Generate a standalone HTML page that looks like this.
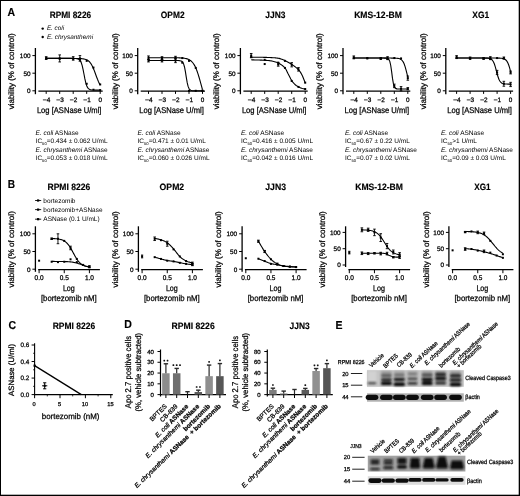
<!DOCTYPE html>
<html><head><meta charset="utf-8"><style>
html,body{margin:0;padding:0;background:#fff;width:520px;height:496px;overflow:hidden}
svg{display:block;will-change:transform}
text{font-family:"Liberation Sans", sans-serif;text-rendering:geometricPrecision}
text.b{stroke:currentColor;stroke-width:0.25px}
text.bb{stroke:currentColor;stroke-width:0.15px}
</style></head><body>
<svg width="520" height="496" viewBox="0 0 520 496" font-family="Liberation Sans, sans-serif">
<rect width="520" height="496" fill="#fff"/>
<rect x="0" y="0" width="1.0" height="496" fill="#000"/>
<rect x="0" y="0" width="520" height="1.0" fill="#000"/>
<rect x="518.7" y="0" width="1.3" height="496" fill="#000"/>
<rect x="0" y="494.7" width="520" height="1.3" fill="#000"/>
<text x="7.40" y="16.40" font-size="11.5" font-weight="bold" textLength="7.60" lengthAdjust="spacingAndGlyphs" class="bb">A</text>
<text x="7.70" y="188.40" font-size="11.5" font-weight="bold" textLength="7.30" lengthAdjust="spacingAndGlyphs" class="bb">B</text>
<text x="8.40" y="328.60" font-size="11.5" font-weight="bold" textLength="7.60" lengthAdjust="spacingAndGlyphs" class="bb">C</text>
<text x="124.30" y="328.40" font-size="11.5" font-weight="bold" textLength="7.60" lengthAdjust="spacingAndGlyphs" class="bb">D</text>
<text x="335.40" y="328.60" font-size="11.5" font-weight="bold" textLength="7.00" lengthAdjust="spacingAndGlyphs" class="bb">E</text>
<text x="70.40" y="17.60" font-size="9.2" text-anchor="middle" font-weight="bold" textLength="41.50" lengthAdjust="spacingAndGlyphs" class="bb">RPMI 8226</text>
<line x1="35.40" y1="48.00" x2="35.40" y2="94.20" stroke="#000" stroke-width="1.3"/>
<line x1="32.40" y1="55.60" x2="35.40" y2="55.60" stroke="#000" stroke-width="1.0"/>
<text x="30.50" y="57.90" font-size="6.4" text-anchor="end" class="b">100</text>
<line x1="32.40" y1="73.20" x2="35.40" y2="73.20" stroke="#000" stroke-width="1.0"/>
<text x="30.50" y="75.50" font-size="6.4" text-anchor="end" class="b">50</text>
<line x1="32.40" y1="90.80" x2="35.40" y2="90.80" stroke="#000" stroke-width="1.0"/>
<text x="30.50" y="93.10" font-size="6.4" text-anchor="end" class="b">0</text>
<line x1="38.40" y1="91.10" x2="102.70" y2="91.10" stroke="#000" stroke-width="1.2"/>
<line x1="46.20" y1="91.10" x2="46.20" y2="93.90" stroke="#000" stroke-width="1.0"/>
<text x="48.50" y="102.00" font-size="6.4" text-anchor="middle" class="b">4</text>
<line x1="42.90" y1="99.90" x2="46.60" y2="99.90" stroke="#000" stroke-width="0.8"/>
<line x1="59.70" y1="91.10" x2="59.70" y2="93.90" stroke="#000" stroke-width="1.0"/>
<text x="62.00" y="102.00" font-size="6.4" text-anchor="middle" class="b">3</text>
<line x1="56.40" y1="99.90" x2="60.10" y2="99.90" stroke="#000" stroke-width="0.8"/>
<line x1="73.20" y1="91.10" x2="73.20" y2="93.90" stroke="#000" stroke-width="1.0"/>
<text x="75.50" y="102.00" font-size="6.4" text-anchor="middle" class="b">2</text>
<line x1="69.90" y1="99.90" x2="73.60" y2="99.90" stroke="#000" stroke-width="0.8"/>
<line x1="86.70" y1="91.10" x2="86.70" y2="93.90" stroke="#000" stroke-width="1.0"/>
<text x="89.00" y="102.00" font-size="6.4" text-anchor="middle" class="b">1</text>
<line x1="83.40" y1="99.90" x2="87.10" y2="99.90" stroke="#000" stroke-width="0.8"/>
<line x1="100.20" y1="91.10" x2="100.20" y2="93.90" stroke="#000" stroke-width="1.0"/>
<text x="100.20" y="102.00" font-size="6.4" text-anchor="middle" class="b">0</text>
<text x="69.20" y="112.70" font-size="8.3" text-anchor="middle" textLength="64.60" lengthAdjust="spacingAndGlyphs" class="b">Log [ASNase U/ml]</text>
<text x="14.00" y="71.30" font-size="8.1" text-anchor="middle" textLength="76.10" lengthAdjust="spacingAndGlyphs" transform="rotate(-90 14.00 71.30)" class="b">viability (% of control)</text>
<path d="M46.20,58.42 L47.10,58.42 L48.00,58.42 L48.90,58.42 L49.80,58.42 L50.70,58.42 L51.60,58.42 L52.50,58.42 L53.40,58.42 L54.30,58.42 L55.20,58.42 L56.10,58.42 L57.00,58.42 L57.90,58.42 L58.80,58.42 L59.70,58.42 L60.60,58.42 L61.50,58.42 L62.40,58.42 L63.30,58.42 L64.20,58.42 L65.10,58.42 L66.00,58.42 L66.90,58.42 L67.80,58.42 L68.70,58.42 L69.60,58.42 L70.50,58.42 L71.40,58.42 L72.30,58.43 L73.20,58.43 L74.10,58.44 L75.00,58.44 L75.90,58.45 L76.80,58.47 L77.70,58.48 L78.60,58.51 L79.50,58.54 L80.40,58.59 L81.30,58.65 L82.20,58.73 L83.10,58.84 L84.00,58.99 L84.90,59.20 L85.80,59.47 L86.70,59.83 L87.60,60.31 L88.50,60.94 L89.40,61.75 L90.30,62.79 L91.20,64.08 L92.10,65.67 L93.00,67.54 L93.90,69.67 L94.80,72.02 L95.70,74.48 L96.60,76.95 L97.50,79.32 L98.40,81.48 L99.30,83.38 L100.20,84.99" stroke="#000" stroke-width="1.1" fill="none"/>
<path d="M46.20,58.42 L47.10,58.42 L48.00,58.42 L48.90,58.42 L49.80,58.42 L50.70,58.42 L51.60,58.42 L52.50,58.42 L53.40,58.42 L54.30,58.42 L55.20,58.42 L56.10,58.42 L57.00,58.42 L57.90,58.42 L58.80,58.42 L59.70,58.42 L60.60,58.42 L61.50,58.42 L62.40,58.42 L63.30,58.42 L64.20,58.42 L65.10,58.42 L66.00,58.42 L66.90,58.42 L67.80,58.42 L68.70,58.42 L69.60,58.42 L70.50,58.42 L71.40,58.42 L72.30,58.43 L73.20,58.44 L74.10,58.45 L75.00,58.48 L75.90,58.54 L76.80,58.65 L77.70,58.84 L78.60,59.19 L79.50,59.82 L80.40,60.92 L81.30,62.75 L82.20,65.59 L83.10,69.54 L84.00,74.26 L84.90,78.97 L85.80,82.92 L86.70,85.76 L87.60,87.59 L88.50,88.69 L89.40,89.32 L90.30,89.67 L91.20,89.86 L92.10,89.97 L93.00,90.03 L93.90,90.06 L94.80,90.08 L95.70,90.09 L96.60,90.09 L97.50,90.09 L98.40,90.09 L99.30,90.10 L100.20,90.10" stroke="#000" stroke-width="1.1" fill="none"/>
<line x1="46.20" y1="56.66" x2="46.20" y2="59.47" stroke="#000" stroke-width="0.9"/>
<line x1="44.90" y1="56.66" x2="47.50" y2="56.66" stroke="#000" stroke-width="0.9"/>
<line x1="44.90" y1="59.47" x2="47.50" y2="59.47" stroke="#000" stroke-width="0.9"/>
<rect x="45.20" y="57.06" width="2.00" height="2.00" fill="#000"/>
<line x1="59.70" y1="54.90" x2="59.70" y2="61.94" stroke="#000" stroke-width="0.9"/>
<line x1="58.40" y1="54.90" x2="61.00" y2="54.90" stroke="#000" stroke-width="0.9"/>
<line x1="58.40" y1="61.94" x2="61.00" y2="61.94" stroke="#000" stroke-width="0.9"/>
<rect x="58.70" y="57.42" width="2.00" height="2.00" fill="#000"/>
<line x1="73.20" y1="56.66" x2="73.20" y2="60.18" stroke="#000" stroke-width="0.9"/>
<line x1="71.90" y1="56.66" x2="74.50" y2="56.66" stroke="#000" stroke-width="0.9"/>
<line x1="71.90" y1="60.18" x2="74.50" y2="60.18" stroke="#000" stroke-width="0.9"/>
<rect x="72.20" y="57.42" width="2.00" height="2.00" fill="#000"/>
<line x1="79.95" y1="55.60" x2="79.95" y2="61.23" stroke="#000" stroke-width="0.9"/>
<line x1="78.65" y1="55.60" x2="81.25" y2="55.60" stroke="#000" stroke-width="0.9"/>
<line x1="78.65" y1="61.23" x2="81.25" y2="61.23" stroke="#000" stroke-width="0.9"/>
<rect x="78.95" y="57.42" width="2.00" height="2.00" fill="#000"/>
<rect x="85.70" y="59.88" width="2.00" height="2.00" fill="#000"/>
<rect x="92.45" y="66.57" width="2.00" height="2.00" fill="#000"/>
<rect x="99.20" y="83.46" width="2.00" height="2.00" fill="#000"/>
<rect x="45.20" y="57.42" width="2.00" height="2.00" fill="#000"/>
<rect x="58.70" y="57.77" width="2.00" height="2.00" fill="#000"/>
<rect x="72.20" y="57.77" width="2.00" height="2.00" fill="#000"/>
<rect x="78.95" y="58.47" width="2.00" height="2.00" fill="#000"/>
<rect x="85.70" y="82.76" width="2.00" height="2.00" fill="#000"/>
<rect x="92.45" y="88.74" width="2.00" height="2.00" fill="#000"/>
<rect x="99.20" y="89.10" width="2.00" height="2.00" fill="#000"/>
<text x="172.70" y="17.60" font-size="9.2" text-anchor="middle" font-weight="bold" textLength="23.70" lengthAdjust="spacingAndGlyphs" class="bb">OPM2</text>
<line x1="137.70" y1="48.00" x2="137.70" y2="94.20" stroke="#000" stroke-width="1.3"/>
<line x1="134.70" y1="55.60" x2="137.70" y2="55.60" stroke="#000" stroke-width="1.0"/>
<text x="132.80" y="57.90" font-size="6.4" text-anchor="end" class="b">100</text>
<line x1="134.70" y1="73.20" x2="137.70" y2="73.20" stroke="#000" stroke-width="1.0"/>
<text x="132.80" y="75.50" font-size="6.4" text-anchor="end" class="b">50</text>
<line x1="134.70" y1="90.80" x2="137.70" y2="90.80" stroke="#000" stroke-width="1.0"/>
<text x="132.80" y="93.10" font-size="6.4" text-anchor="end" class="b">0</text>
<line x1="140.70" y1="91.10" x2="205.00" y2="91.10" stroke="#000" stroke-width="1.2"/>
<line x1="148.50" y1="91.10" x2="148.50" y2="93.90" stroke="#000" stroke-width="1.0"/>
<text x="150.80" y="102.00" font-size="6.4" text-anchor="middle" class="b">4</text>
<line x1="145.20" y1="99.90" x2="148.90" y2="99.90" stroke="#000" stroke-width="0.8"/>
<line x1="162.00" y1="91.10" x2="162.00" y2="93.90" stroke="#000" stroke-width="1.0"/>
<text x="164.30" y="102.00" font-size="6.4" text-anchor="middle" class="b">3</text>
<line x1="158.70" y1="99.90" x2="162.40" y2="99.90" stroke="#000" stroke-width="0.8"/>
<line x1="175.50" y1="91.10" x2="175.50" y2="93.90" stroke="#000" stroke-width="1.0"/>
<text x="177.80" y="102.00" font-size="6.4" text-anchor="middle" class="b">2</text>
<line x1="172.20" y1="99.90" x2="175.90" y2="99.90" stroke="#000" stroke-width="0.8"/>
<line x1="189.00" y1="91.10" x2="189.00" y2="93.90" stroke="#000" stroke-width="1.0"/>
<text x="191.30" y="102.00" font-size="6.4" text-anchor="middle" class="b">1</text>
<line x1="185.70" y1="99.90" x2="189.40" y2="99.90" stroke="#000" stroke-width="0.8"/>
<line x1="202.50" y1="91.10" x2="202.50" y2="93.90" stroke="#000" stroke-width="1.0"/>
<text x="202.50" y="102.00" font-size="6.4" text-anchor="middle" class="b">0</text>
<text x="171.50" y="112.70" font-size="8.3" text-anchor="middle" textLength="64.60" lengthAdjust="spacingAndGlyphs" class="b">Log [ASNase U/ml]</text>
<text x="118.00" y="71.30" font-size="8.1" text-anchor="middle" textLength="76.10" lengthAdjust="spacingAndGlyphs" transform="rotate(-90 118.00 71.30)" class="b">viability (% of control)</text>
<path d="M148.50,57.71 L149.40,57.71 L150.30,57.71 L151.20,57.71 L152.10,57.71 L153.00,57.71 L153.90,57.71 L154.80,57.71 L155.70,57.71 L156.60,57.71 L157.50,57.71 L158.40,57.71 L159.30,57.71 L160.20,57.71 L161.10,57.71 L162.00,57.71 L162.90,57.71 L163.80,57.71 L164.70,57.71 L165.60,57.72 L166.50,57.72 L167.40,57.72 L168.30,57.72 L169.20,57.72 L170.10,57.72 L171.00,57.73 L171.90,57.73 L172.80,57.74 L173.70,57.74 L174.60,57.75 L175.50,57.76 L176.40,57.78 L177.30,57.79 L178.20,57.82 L179.10,57.84 L180.00,57.88 L180.90,57.93 L181.80,57.99 L182.70,58.06 L183.60,58.16 L184.50,58.28 L185.40,58.44 L186.30,58.64 L187.20,58.89 L188.10,59.21 L189.00,59.61 L189.90,60.12 L190.80,60.75 L191.70,61.53 L192.60,62.50 L193.50,63.69 L194.40,65.13 L195.30,66.84 L196.20,68.86 L197.10,71.20 L198.00,73.83 L198.90,76.75 L199.80,79.88 L200.70,83.15 L201.60,86.48 L202.50,89.75" stroke="#000" stroke-width="1.1" fill="none"/>
<path d="M148.50,60.53 L149.40,60.53 L150.30,60.53 L151.20,60.53 L152.10,60.53 L153.00,60.53 L153.90,60.53 L154.80,60.53 L155.70,60.53 L156.60,60.53 L157.50,60.53 L158.40,60.53 L159.30,60.53 L160.20,60.53 L161.10,60.53 L162.00,60.53 L162.90,60.53 L163.80,60.53 L164.70,60.53 L165.60,60.53 L166.50,60.53 L167.40,60.53 L168.30,60.53 L169.20,60.53 L170.10,60.53 L171.00,60.53 L171.90,60.53 L172.80,60.53 L173.70,60.53 L174.60,60.53 L175.50,60.53 L176.40,60.54 L177.30,60.55 L178.20,60.57 L179.10,60.61 L180.00,60.70 L180.90,60.90 L181.80,61.33 L182.70,62.20 L183.60,63.91 L184.50,66.99 L185.40,71.69 L186.30,77.40 L187.20,82.65 L188.10,86.38 L189.00,88.57 L189.90,89.72 L190.80,90.29 L191.70,90.56 L192.60,90.69 L193.50,90.75 L194.40,90.78 L195.30,90.79 L196.20,90.79 L197.10,90.80 L198.00,90.80 L198.90,90.80 L199.80,90.80 L200.70,90.80 L201.60,90.80 L202.50,90.80" stroke="#000" stroke-width="1.1" fill="none"/>
<line x1="148.50" y1="55.95" x2="148.50" y2="59.47" stroke="#000" stroke-width="0.9"/>
<line x1="147.20" y1="55.95" x2="149.80" y2="55.95" stroke="#000" stroke-width="0.9"/>
<line x1="147.20" y1="59.47" x2="149.80" y2="59.47" stroke="#000" stroke-width="0.9"/>
<rect x="147.50" y="56.71" width="2.00" height="2.00" fill="#000"/>
<line x1="162.00" y1="56.66" x2="162.00" y2="59.47" stroke="#000" stroke-width="0.9"/>
<line x1="160.70" y1="56.66" x2="163.30" y2="56.66" stroke="#000" stroke-width="0.9"/>
<line x1="160.70" y1="59.47" x2="163.30" y2="59.47" stroke="#000" stroke-width="0.9"/>
<rect x="161.00" y="57.06" width="2.00" height="2.00" fill="#000"/>
<line x1="175.50" y1="56.30" x2="175.50" y2="59.12" stroke="#000" stroke-width="0.9"/>
<line x1="174.20" y1="56.30" x2="176.80" y2="56.30" stroke="#000" stroke-width="0.9"/>
<line x1="174.20" y1="59.12" x2="176.80" y2="59.12" stroke="#000" stroke-width="0.9"/>
<rect x="174.50" y="56.71" width="2.00" height="2.00" fill="#000"/>
<rect x="181.25" y="57.06" width="2.00" height="2.00" fill="#000"/>
<rect x="188.00" y="59.88" width="2.00" height="2.00" fill="#000"/>
<rect x="194.75" y="66.92" width="2.00" height="2.00" fill="#000"/>
<rect x="201.50" y="89.80" width="2.00" height="2.00" fill="#000"/>
<line x1="148.50" y1="59.12" x2="148.50" y2="61.94" stroke="#000" stroke-width="0.9"/>
<line x1="147.20" y1="59.12" x2="149.80" y2="59.12" stroke="#000" stroke-width="0.9"/>
<line x1="147.20" y1="61.94" x2="149.80" y2="61.94" stroke="#000" stroke-width="0.9"/>
<rect x="147.50" y="59.53" width="2.00" height="2.00" fill="#000"/>
<line x1="162.00" y1="59.12" x2="162.00" y2="61.94" stroke="#000" stroke-width="0.9"/>
<line x1="160.70" y1="59.12" x2="163.30" y2="59.12" stroke="#000" stroke-width="0.9"/>
<line x1="160.70" y1="61.94" x2="163.30" y2="61.94" stroke="#000" stroke-width="0.9"/>
<rect x="161.00" y="59.53" width="2.00" height="2.00" fill="#000"/>
<line x1="175.50" y1="58.42" x2="175.50" y2="62.64" stroke="#000" stroke-width="0.9"/>
<line x1="174.20" y1="58.42" x2="176.80" y2="58.42" stroke="#000" stroke-width="0.9"/>
<line x1="174.20" y1="62.64" x2="176.80" y2="62.64" stroke="#000" stroke-width="0.9"/>
<rect x="174.50" y="59.53" width="2.00" height="2.00" fill="#000"/>
<rect x="181.25" y="61.64" width="2.00" height="2.00" fill="#000"/>
<rect x="188.00" y="89.80" width="2.00" height="2.00" fill="#000"/>
<rect x="194.75" y="89.80" width="2.00" height="2.00" fill="#000"/>
<rect x="201.50" y="89.80" width="2.00" height="2.00" fill="#000"/>
<text x="275.40" y="17.60" font-size="9.2" text-anchor="middle" font-weight="bold" textLength="20.10" lengthAdjust="spacingAndGlyphs" class="bb">JJN3</text>
<line x1="240.40" y1="48.00" x2="240.40" y2="94.20" stroke="#000" stroke-width="1.3"/>
<line x1="237.40" y1="55.60" x2="240.40" y2="55.60" stroke="#000" stroke-width="1.0"/>
<text x="235.50" y="57.90" font-size="6.4" text-anchor="end" class="b">100</text>
<line x1="237.40" y1="73.20" x2="240.40" y2="73.20" stroke="#000" stroke-width="1.0"/>
<text x="235.50" y="75.50" font-size="6.4" text-anchor="end" class="b">50</text>
<line x1="237.40" y1="90.80" x2="240.40" y2="90.80" stroke="#000" stroke-width="1.0"/>
<text x="235.50" y="93.10" font-size="6.4" text-anchor="end" class="b">0</text>
<line x1="243.40" y1="91.10" x2="307.70" y2="91.10" stroke="#000" stroke-width="1.2"/>
<line x1="251.20" y1="91.10" x2="251.20" y2="93.90" stroke="#000" stroke-width="1.0"/>
<text x="253.50" y="102.00" font-size="6.4" text-anchor="middle" class="b">4</text>
<line x1="247.90" y1="99.90" x2="251.60" y2="99.90" stroke="#000" stroke-width="0.8"/>
<line x1="264.70" y1="91.10" x2="264.70" y2="93.90" stroke="#000" stroke-width="1.0"/>
<text x="267.00" y="102.00" font-size="6.4" text-anchor="middle" class="b">3</text>
<line x1="261.40" y1="99.90" x2="265.10" y2="99.90" stroke="#000" stroke-width="0.8"/>
<line x1="278.20" y1="91.10" x2="278.20" y2="93.90" stroke="#000" stroke-width="1.0"/>
<text x="280.50" y="102.00" font-size="6.4" text-anchor="middle" class="b">2</text>
<line x1="274.90" y1="99.90" x2="278.60" y2="99.90" stroke="#000" stroke-width="0.8"/>
<line x1="291.70" y1="91.10" x2="291.70" y2="93.90" stroke="#000" stroke-width="1.0"/>
<text x="294.00" y="102.00" font-size="6.4" text-anchor="middle" class="b">1</text>
<line x1="288.40" y1="99.90" x2="292.10" y2="99.90" stroke="#000" stroke-width="0.8"/>
<line x1="305.20" y1="91.10" x2="305.20" y2="93.90" stroke="#000" stroke-width="1.0"/>
<text x="305.20" y="102.00" font-size="6.4" text-anchor="middle" class="b">0</text>
<text x="274.20" y="112.70" font-size="8.3" text-anchor="middle" textLength="64.60" lengthAdjust="spacingAndGlyphs" class="b">Log [ASNase U/ml]</text>
<text x="219.20" y="71.30" font-size="8.1" text-anchor="middle" textLength="76.10" lengthAdjust="spacingAndGlyphs" transform="rotate(-90 219.20 71.30)" class="b">viability (% of control)</text>
<path d="M251.20,57.18 L252.10,57.19 L253.00,57.20 L253.90,57.21 L254.80,57.21 L255.70,57.22 L256.60,57.22 L257.50,57.23 L258.40,57.23 L259.30,57.24 L260.20,57.25 L261.10,57.26 L262.00,57.28 L262.90,57.30 L263.80,57.33 L264.70,57.36 L265.60,57.39 L266.50,57.42 L267.40,57.45 L268.30,57.48 L269.20,57.51 L270.10,57.54 L271.00,57.58 L271.90,57.62 L272.80,57.68 L273.70,57.74 L274.60,57.81 L275.50,57.90 L276.40,57.99 L277.30,58.11 L278.20,58.24 L279.10,58.41 L280.00,58.63 L280.90,58.90 L281.80,59.21 L282.70,59.56 L283.60,59.93 L284.50,60.32 L285.40,60.74 L286.30,61.18 L287.20,61.65 L288.10,62.15 L289.00,62.67 L289.90,63.23 L290.80,63.80 L291.70,64.40 L292.60,65.01 L293.50,65.63 L294.40,66.26 L295.30,66.93 L296.20,67.64 L297.10,68.41 L298.00,69.24 L298.90,70.16 L299.80,71.28 L300.70,72.62 L301.60,74.18 L302.50,76.02 L303.40,78.18 L304.30,80.46 L305.20,82.70" stroke="#000" stroke-width="1.1" fill="none"/>
<path d="M251.20,59.82 L252.10,59.85 L253.00,59.88 L253.90,59.91 L254.80,59.93 L255.70,59.95 L256.60,59.98 L257.50,60.00 L258.40,60.03 L259.30,60.05 L260.20,60.08 L261.10,60.11 L262.00,60.15 L262.90,60.19 L263.80,60.23 L264.70,60.28 L265.60,60.33 L266.50,60.39 L267.40,60.46 L268.30,60.53 L269.20,60.63 L270.10,60.75 L271.00,60.90 L271.90,61.08 L272.80,61.26 L273.70,61.45 L274.60,61.67 L275.50,61.92 L276.40,62.21 L277.30,62.57 L278.20,62.99 L279.10,63.46 L280.00,63.96 L280.90,64.51 L281.80,65.11 L282.70,65.79 L283.60,66.56 L284.50,67.44 L285.40,68.51 L286.30,70.08 L287.20,71.95 L288.10,73.82 L289.00,75.56 L289.90,77.35 L290.80,79.07 L291.70,80.59 L292.60,81.87 L293.50,82.97 L294.40,83.93 L295.30,84.77 L296.20,85.44 L297.10,85.98 L298.00,86.47 L298.90,86.97 L299.80,87.45 L300.70,87.88 L301.60,88.26 L302.50,88.54 L303.40,88.73 L304.30,88.88 L305.20,89.04" stroke="#000" stroke-width="1.1" fill="none"/>
<line x1="251.20" y1="53.49" x2="251.20" y2="57.71" stroke="#000" stroke-width="0.9"/>
<line x1="249.90" y1="53.49" x2="252.50" y2="53.49" stroke="#000" stroke-width="0.9"/>
<line x1="249.90" y1="57.71" x2="252.50" y2="57.71" stroke="#000" stroke-width="0.9"/>
<rect x="250.20" y="54.60" width="2.00" height="2.00" fill="#000"/>
<rect x="263.70" y="58.82" width="2.00" height="2.00" fill="#000"/>
<rect x="277.20" y="61.64" width="2.00" height="2.00" fill="#000"/>
<rect x="283.95" y="59.88" width="2.00" height="2.00" fill="#000"/>
<line x1="291.70" y1="62.64" x2="291.70" y2="66.86" stroke="#000" stroke-width="0.9"/>
<line x1="290.40" y1="62.64" x2="293.00" y2="62.64" stroke="#000" stroke-width="0.9"/>
<line x1="290.40" y1="66.86" x2="293.00" y2="66.86" stroke="#000" stroke-width="0.9"/>
<rect x="290.70" y="63.75" width="2.00" height="2.00" fill="#000"/>
<line x1="298.45" y1="67.57" x2="298.45" y2="71.09" stroke="#000" stroke-width="0.9"/>
<line x1="297.15" y1="67.57" x2="299.75" y2="67.57" stroke="#000" stroke-width="0.9"/>
<line x1="297.15" y1="71.09" x2="299.75" y2="71.09" stroke="#000" stroke-width="0.9"/>
<rect x="297.45" y="68.33" width="2.00" height="2.00" fill="#000"/>
<rect x="304.20" y="81.70" width="2.00" height="2.00" fill="#000"/>
<rect x="250.20" y="56.01" width="2.00" height="2.00" fill="#000"/>
<rect x="263.70" y="63.05" width="2.00" height="2.00" fill="#000"/>
<line x1="278.20" y1="62.64" x2="278.20" y2="66.16" stroke="#000" stroke-width="0.9"/>
<line x1="276.90" y1="62.64" x2="279.50" y2="62.64" stroke="#000" stroke-width="0.9"/>
<line x1="276.90" y1="66.16" x2="279.50" y2="66.16" stroke="#000" stroke-width="0.9"/>
<rect x="277.20" y="63.40" width="2.00" height="2.00" fill="#000"/>
<rect x="283.95" y="66.92" width="2.00" height="2.00" fill="#000"/>
<rect x="290.70" y="79.94" width="2.00" height="2.00" fill="#000"/>
<rect x="297.45" y="85.93" width="2.00" height="2.00" fill="#000"/>
<rect x="304.20" y="88.04" width="2.00" height="2.00" fill="#000"/>
<text x="378.00" y="17.60" font-size="9.2" text-anchor="middle" font-weight="bold" textLength="47.70" lengthAdjust="spacingAndGlyphs" class="bb">KMS-12-BM</text>
<line x1="343.00" y1="48.00" x2="343.00" y2="94.20" stroke="#000" stroke-width="1.3"/>
<line x1="340.00" y1="55.60" x2="343.00" y2="55.60" stroke="#000" stroke-width="1.0"/>
<text x="338.10" y="57.90" font-size="6.4" text-anchor="end" class="b">100</text>
<line x1="340.00" y1="73.20" x2="343.00" y2="73.20" stroke="#000" stroke-width="1.0"/>
<text x="338.10" y="75.50" font-size="6.4" text-anchor="end" class="b">50</text>
<line x1="340.00" y1="90.80" x2="343.00" y2="90.80" stroke="#000" stroke-width="1.0"/>
<text x="338.10" y="93.10" font-size="6.4" text-anchor="end" class="b">0</text>
<line x1="346.00" y1="91.10" x2="410.30" y2="91.10" stroke="#000" stroke-width="1.2"/>
<line x1="353.80" y1="91.10" x2="353.80" y2="93.90" stroke="#000" stroke-width="1.0"/>
<text x="356.10" y="102.00" font-size="6.4" text-anchor="middle" class="b">4</text>
<line x1="350.50" y1="99.90" x2="354.20" y2="99.90" stroke="#000" stroke-width="0.8"/>
<line x1="367.30" y1="91.10" x2="367.30" y2="93.90" stroke="#000" stroke-width="1.0"/>
<text x="369.60" y="102.00" font-size="6.4" text-anchor="middle" class="b">3</text>
<line x1="364.00" y1="99.90" x2="367.70" y2="99.90" stroke="#000" stroke-width="0.8"/>
<line x1="380.80" y1="91.10" x2="380.80" y2="93.90" stroke="#000" stroke-width="1.0"/>
<text x="383.10" y="102.00" font-size="6.4" text-anchor="middle" class="b">2</text>
<line x1="377.50" y1="99.90" x2="381.20" y2="99.90" stroke="#000" stroke-width="0.8"/>
<line x1="394.30" y1="91.10" x2="394.30" y2="93.90" stroke="#000" stroke-width="1.0"/>
<text x="396.60" y="102.00" font-size="6.4" text-anchor="middle" class="b">1</text>
<line x1="391.00" y1="99.90" x2="394.70" y2="99.90" stroke="#000" stroke-width="0.8"/>
<line x1="407.80" y1="91.10" x2="407.80" y2="93.90" stroke="#000" stroke-width="1.0"/>
<text x="407.80" y="102.00" font-size="6.4" text-anchor="middle" class="b">0</text>
<text x="376.80" y="112.70" font-size="8.3" text-anchor="middle" textLength="64.60" lengthAdjust="spacingAndGlyphs" class="b">Log [ASNase U/ml]</text>
<text x="322.40" y="71.30" font-size="8.1" text-anchor="middle" textLength="76.10" lengthAdjust="spacingAndGlyphs" transform="rotate(-90 322.40 71.30)" class="b">viability (% of control)</text>
<path d="M353.80,58.06 L354.70,58.06 L355.60,58.06 L356.50,58.06 L357.40,58.06 L358.30,58.06 L359.20,58.06 L360.10,58.06 L361.00,58.06 L361.90,58.06 L362.80,58.06 L363.70,58.06 L364.60,58.06 L365.50,58.06 L366.40,58.06 L367.30,58.06 L368.20,58.06 L369.10,58.06 L370.00,58.06 L370.90,58.06 L371.80,58.06 L372.70,58.06 L373.60,58.06 L374.50,58.06 L375.40,58.06 L376.30,58.06 L377.20,58.06 L378.10,58.06 L379.00,58.06 L379.90,58.06 L380.80,58.06 L381.70,58.06 L382.60,58.06 L383.50,58.06 L384.40,58.06 L385.30,58.06 L386.20,58.06 L387.10,58.07 L388.00,58.07 L388.90,58.07 L389.80,58.07 L390.70,58.07 L391.60,58.08 L392.50,58.08 L393.40,58.09 L394.30,58.11 L395.20,58.14 L396.10,58.18 L397.00,58.25 L397.90,58.35 L398.80,58.52 L399.70,58.78 L400.60,59.19 L401.50,59.81 L402.40,60.74 L403.30,62.12 L404.20,64.05 L405.10,66.64 L406.00,69.85 L406.90,73.49 L407.80,77.23" stroke="#000" stroke-width="1.1" fill="none"/>
<path d="M353.80,58.06 L354.70,58.06 L355.60,58.06 L356.50,58.06 L357.40,58.06 L358.30,58.06 L359.20,58.06 L360.10,58.06 L361.00,58.06 L361.90,58.06 L362.80,58.06 L363.70,58.06 L364.60,58.06 L365.50,58.06 L366.40,58.06 L367.30,58.06 L368.20,58.06 L369.10,58.06 L370.00,58.06 L370.90,58.06 L371.80,58.06 L372.70,58.06 L373.60,58.06 L374.50,58.06 L375.40,58.06 L376.30,58.06 L377.20,58.06 L378.10,58.06 L379.00,58.06 L379.90,58.06 L380.80,58.06 L381.70,58.06 L382.60,58.07 L383.50,58.07 L384.40,58.08 L385.30,58.10 L386.20,58.16 L387.10,58.30 L388.00,58.64 L388.90,59.48 L389.80,61.39 L390.70,65.25 L391.60,71.43 L392.50,78.38 L393.40,83.69 L394.30,86.66 L395.20,88.05 L396.10,88.64 L397.00,88.88 L397.90,88.98 L398.80,89.01 L399.70,89.03 L400.60,89.04 L401.50,89.04 L402.40,89.04 L403.30,89.04 L404.20,89.04 L405.10,89.04 L406.00,89.04 L406.90,89.04 L407.80,89.04" stroke="#000" stroke-width="1.1" fill="none"/>
<line x1="353.80" y1="55.95" x2="353.80" y2="58.77" stroke="#000" stroke-width="0.9"/>
<line x1="352.50" y1="55.95" x2="355.10" y2="55.95" stroke="#000" stroke-width="0.9"/>
<line x1="352.50" y1="58.77" x2="355.10" y2="58.77" stroke="#000" stroke-width="0.9"/>
<rect x="352.80" y="56.36" width="2.00" height="2.00" fill="#000"/>
<rect x="366.30" y="57.06" width="2.00" height="2.00" fill="#000"/>
<line x1="380.80" y1="57.71" x2="380.80" y2="59.12" stroke="#000" stroke-width="0.9"/>
<line x1="379.50" y1="57.71" x2="382.10" y2="57.71" stroke="#000" stroke-width="0.9"/>
<line x1="379.50" y1="59.12" x2="382.10" y2="59.12" stroke="#000" stroke-width="0.9"/>
<rect x="379.80" y="57.42" width="2.00" height="2.00" fill="#000"/>
<line x1="387.55" y1="56.66" x2="387.55" y2="59.47" stroke="#000" stroke-width="0.9"/>
<line x1="386.25" y1="56.66" x2="388.85" y2="56.66" stroke="#000" stroke-width="0.9"/>
<line x1="386.25" y1="59.47" x2="388.85" y2="59.47" stroke="#000" stroke-width="0.9"/>
<rect x="386.55" y="57.06" width="2.00" height="2.00" fill="#000"/>
<rect x="393.30" y="57.06" width="2.00" height="2.00" fill="#000"/>
<rect x="400.05" y="57.42" width="2.00" height="2.00" fill="#000"/>
<line x1="407.80" y1="76.02" x2="407.80" y2="80.24" stroke="#000" stroke-width="0.9"/>
<line x1="406.50" y1="76.02" x2="409.10" y2="76.02" stroke="#000" stroke-width="0.9"/>
<line x1="406.50" y1="80.24" x2="409.10" y2="80.24" stroke="#000" stroke-width="0.9"/>
<rect x="406.80" y="77.13" width="2.00" height="2.00" fill="#000"/>
<rect x="352.80" y="57.06" width="2.00" height="2.00" fill="#000"/>
<rect x="366.30" y="57.42" width="2.00" height="2.00" fill="#000"/>
<rect x="379.80" y="57.77" width="2.00" height="2.00" fill="#000"/>
<rect x="386.55" y="58.12" width="2.00" height="2.00" fill="#000"/>
<line x1="394.30" y1="84.11" x2="394.30" y2="87.63" stroke="#000" stroke-width="0.9"/>
<line x1="393.00" y1="84.11" x2="395.60" y2="84.11" stroke="#000" stroke-width="0.9"/>
<line x1="393.00" y1="87.63" x2="395.60" y2="87.63" stroke="#000" stroke-width="0.9"/>
<rect x="393.30" y="84.87" width="2.00" height="2.00" fill="#000"/>
<line x1="401.05" y1="86.58" x2="401.05" y2="90.80" stroke="#000" stroke-width="0.9"/>
<line x1="399.75" y1="86.58" x2="402.35" y2="86.58" stroke="#000" stroke-width="0.9"/>
<line x1="399.75" y1="90.80" x2="402.35" y2="90.80" stroke="#000" stroke-width="0.9"/>
<rect x="400.05" y="87.69" width="2.00" height="2.00" fill="#000"/>
<line x1="407.80" y1="87.63" x2="407.80" y2="89.74" stroke="#000" stroke-width="0.9"/>
<line x1="406.50" y1="87.63" x2="409.10" y2="87.63" stroke="#000" stroke-width="0.9"/>
<line x1="406.50" y1="89.74" x2="409.10" y2="89.74" stroke="#000" stroke-width="0.9"/>
<rect x="406.80" y="87.69" width="2.00" height="2.00" fill="#000"/>
<text x="480.80" y="17.60" font-size="9.2" text-anchor="middle" font-weight="bold" textLength="16.90" lengthAdjust="spacingAndGlyphs" class="bb">XG1</text>
<line x1="445.80" y1="48.00" x2="445.80" y2="94.20" stroke="#000" stroke-width="1.3"/>
<line x1="442.80" y1="55.60" x2="445.80" y2="55.60" stroke="#000" stroke-width="1.0"/>
<text x="440.90" y="57.90" font-size="6.4" text-anchor="end" class="b">100</text>
<line x1="442.80" y1="73.20" x2="445.80" y2="73.20" stroke="#000" stroke-width="1.0"/>
<text x="440.90" y="75.50" font-size="6.4" text-anchor="end" class="b">50</text>
<line x1="442.80" y1="90.80" x2="445.80" y2="90.80" stroke="#000" stroke-width="1.0"/>
<text x="440.90" y="93.10" font-size="6.4" text-anchor="end" class="b">0</text>
<line x1="448.80" y1="91.10" x2="513.10" y2="91.10" stroke="#000" stroke-width="1.2"/>
<line x1="456.60" y1="91.10" x2="456.60" y2="93.90" stroke="#000" stroke-width="1.0"/>
<text x="458.90" y="102.00" font-size="6.4" text-anchor="middle" class="b">4</text>
<line x1="453.30" y1="99.90" x2="457.00" y2="99.90" stroke="#000" stroke-width="0.8"/>
<line x1="470.10" y1="91.10" x2="470.10" y2="93.90" stroke="#000" stroke-width="1.0"/>
<text x="472.40" y="102.00" font-size="6.4" text-anchor="middle" class="b">3</text>
<line x1="466.80" y1="99.90" x2="470.50" y2="99.90" stroke="#000" stroke-width="0.8"/>
<line x1="483.60" y1="91.10" x2="483.60" y2="93.90" stroke="#000" stroke-width="1.0"/>
<text x="485.90" y="102.00" font-size="6.4" text-anchor="middle" class="b">2</text>
<line x1="480.30" y1="99.90" x2="484.00" y2="99.90" stroke="#000" stroke-width="0.8"/>
<line x1="497.10" y1="91.10" x2="497.10" y2="93.90" stroke="#000" stroke-width="1.0"/>
<text x="499.40" y="102.00" font-size="6.4" text-anchor="middle" class="b">1</text>
<line x1="493.80" y1="99.90" x2="497.50" y2="99.90" stroke="#000" stroke-width="0.8"/>
<line x1="510.60" y1="91.10" x2="510.60" y2="93.90" stroke="#000" stroke-width="1.0"/>
<text x="510.60" y="102.00" font-size="6.4" text-anchor="middle" class="b">0</text>
<text x="479.60" y="112.70" font-size="8.3" text-anchor="middle" textLength="64.60" lengthAdjust="spacingAndGlyphs" class="b">Log [ASNase U/ml]</text>
<text x="425.60" y="71.30" font-size="8.1" text-anchor="middle" textLength="76.10" lengthAdjust="spacingAndGlyphs" transform="rotate(-90 425.60 71.30)" class="b">viability (% of control)</text>
<path d="M456.60,58.06 L457.50,58.06 L458.40,58.06 L459.30,58.06 L460.20,58.06 L461.10,58.06 L462.00,58.06 L462.90,58.06 L463.80,58.06 L464.70,58.06 L465.60,58.06 L466.50,58.06 L467.40,58.06 L468.30,58.06 L469.20,58.06 L470.10,58.06 L471.00,58.06 L471.90,58.06 L472.80,58.06 L473.70,58.06 L474.60,58.06 L475.50,58.06 L476.40,58.06 L477.30,58.06 L478.20,58.06 L479.10,58.06 L480.00,58.06 L480.90,58.06 L481.80,58.06 L482.70,58.06 L483.60,58.06 L484.50,58.06 L485.40,58.06 L486.30,58.06 L487.20,58.06 L488.10,58.06 L489.00,58.06 L489.90,58.06 L490.80,58.06 L491.70,58.07 L492.60,58.07 L493.50,58.07 L494.40,58.07 L495.30,58.07 L496.20,58.08 L497.10,58.09 L498.00,58.10 L498.90,58.12 L499.80,58.16 L500.70,58.21 L501.60,58.29 L502.50,58.43 L503.40,58.64 L504.30,58.96 L505.20,59.46 L506.10,60.23 L507.00,61.37 L507.90,63.01 L508.80,65.26 L509.70,68.17 L510.60,71.63" stroke="#000" stroke-width="1.1" fill="none"/>
<path d="M456.60,58.06 L457.50,58.06 L458.40,58.06 L459.30,58.06 L460.20,58.06 L461.10,58.06 L462.00,58.06 L462.90,58.06 L463.80,58.06 L464.70,58.06 L465.60,58.06 L466.50,58.06 L467.40,58.06 L468.30,58.06 L469.20,58.06 L470.10,58.06 L471.00,58.06 L471.90,58.06 L472.80,58.06 L473.70,58.06 L474.60,58.06 L475.50,58.06 L476.40,58.06 L477.30,58.06 L478.20,58.06 L479.10,58.06 L480.00,58.07 L480.90,58.07 L481.80,58.07 L482.70,58.07 L483.60,58.08 L484.50,58.09 L485.40,58.10 L486.30,58.13 L487.20,58.17 L488.10,58.24 L489.00,58.37 L489.90,58.58 L490.80,58.94 L491.70,59.53 L492.60,60.47 L493.50,61.93 L494.40,64.05 L495.30,66.87 L496.20,70.21 L497.10,73.68 L498.00,76.80 L498.90,79.27 L499.80,81.05 L500.70,82.23 L501.60,82.98 L502.50,83.44 L503.40,83.71 L504.30,83.88 L505.20,83.97 L506.10,84.03 L507.00,84.06 L507.90,84.08 L508.80,84.10 L509.70,84.10 L510.60,84.11" stroke="#000" stroke-width="1.1" fill="none"/>
<line x1="456.60" y1="55.60" x2="456.60" y2="58.42" stroke="#000" stroke-width="0.9"/>
<line x1="455.30" y1="55.60" x2="457.90" y2="55.60" stroke="#000" stroke-width="0.9"/>
<line x1="455.30" y1="58.42" x2="457.90" y2="58.42" stroke="#000" stroke-width="0.9"/>
<rect x="455.60" y="56.01" width="2.00" height="2.00" fill="#000"/>
<line x1="470.10" y1="57.01" x2="470.10" y2="59.12" stroke="#000" stroke-width="0.9"/>
<line x1="468.80" y1="57.01" x2="471.40" y2="57.01" stroke="#000" stroke-width="0.9"/>
<line x1="468.80" y1="59.12" x2="471.40" y2="59.12" stroke="#000" stroke-width="0.9"/>
<rect x="469.10" y="57.06" width="2.00" height="2.00" fill="#000"/>
<line x1="483.60" y1="57.71" x2="483.60" y2="59.12" stroke="#000" stroke-width="0.9"/>
<line x1="482.30" y1="57.71" x2="484.90" y2="57.71" stroke="#000" stroke-width="0.9"/>
<line x1="482.30" y1="59.12" x2="484.90" y2="59.12" stroke="#000" stroke-width="0.9"/>
<rect x="482.60" y="57.42" width="2.00" height="2.00" fill="#000"/>
<line x1="490.35" y1="56.66" x2="490.35" y2="59.47" stroke="#000" stroke-width="0.9"/>
<line x1="489.05" y1="56.66" x2="491.65" y2="56.66" stroke="#000" stroke-width="0.9"/>
<line x1="489.05" y1="59.47" x2="491.65" y2="59.47" stroke="#000" stroke-width="0.9"/>
<rect x="489.35" y="57.06" width="2.00" height="2.00" fill="#000"/>
<rect x="496.10" y="57.06" width="2.00" height="2.00" fill="#000"/>
<line x1="503.85" y1="57.01" x2="503.85" y2="59.12" stroke="#000" stroke-width="0.9"/>
<line x1="502.55" y1="57.01" x2="505.15" y2="57.01" stroke="#000" stroke-width="0.9"/>
<line x1="502.55" y1="59.12" x2="505.15" y2="59.12" stroke="#000" stroke-width="0.9"/>
<rect x="502.85" y="57.06" width="2.00" height="2.00" fill="#000"/>
<line x1="510.60" y1="71.09" x2="510.60" y2="73.90" stroke="#000" stroke-width="0.9"/>
<line x1="509.30" y1="71.09" x2="511.90" y2="71.09" stroke="#000" stroke-width="0.9"/>
<line x1="509.30" y1="73.90" x2="511.90" y2="73.90" stroke="#000" stroke-width="0.9"/>
<rect x="509.60" y="71.50" width="2.00" height="2.00" fill="#000"/>
<rect x="455.60" y="57.06" width="2.00" height="2.00" fill="#000"/>
<rect x="469.10" y="57.77" width="2.00" height="2.00" fill="#000"/>
<rect x="482.60" y="57.77" width="2.00" height="2.00" fill="#000"/>
<rect x="489.35" y="58.12" width="2.00" height="2.00" fill="#000"/>
<line x1="497.10" y1="70.38" x2="497.10" y2="74.61" stroke="#000" stroke-width="0.9"/>
<line x1="495.80" y1="70.38" x2="498.40" y2="70.38" stroke="#000" stroke-width="0.9"/>
<line x1="495.80" y1="74.61" x2="498.40" y2="74.61" stroke="#000" stroke-width="0.9"/>
<rect x="496.10" y="71.50" width="2.00" height="2.00" fill="#000"/>
<line x1="503.85" y1="81.30" x2="503.85" y2="86.22" stroke="#000" stroke-width="0.9"/>
<line x1="502.55" y1="81.30" x2="505.15" y2="81.30" stroke="#000" stroke-width="0.9"/>
<line x1="502.55" y1="86.22" x2="505.15" y2="86.22" stroke="#000" stroke-width="0.9"/>
<rect x="502.85" y="82.76" width="2.00" height="2.00" fill="#000"/>
<line x1="510.60" y1="82.35" x2="510.60" y2="86.58" stroke="#000" stroke-width="0.9"/>
<line x1="509.30" y1="82.35" x2="511.90" y2="82.35" stroke="#000" stroke-width="0.9"/>
<line x1="509.30" y1="86.58" x2="511.90" y2="86.58" stroke="#000" stroke-width="0.9"/>
<rect x="509.60" y="83.46" width="2.00" height="2.00" fill="#000"/>
<circle cx="42.7" cy="28.6" r="1.2" fill="#000"/>
<circle cx="42.7" cy="37.0" r="1.2" fill="#000"/>
<text x="46.90" y="30.20" font-size="6.4" font-style="italic" textLength="17.20" lengthAdjust="spacingAndGlyphs">E. coli</text>
<text x="46.90" y="38.80" font-size="6.4" font-style="italic" textLength="46.20" lengthAdjust="spacingAndGlyphs">E. chrysanthemi</text>
<text x="35.6" y="134.6" font-size="6.5"><tspan font-style="italic">E. coli</tspan> ASNase</text>
<text x="35.6" y="142.5" font-size="6.5">IC<tspan font-size="4.2" dy="2.0">50</tspan><tspan dy="-2.0">=0.434 ± 0.062 U/mL</tspan></text>
<text x="35.6" y="152.3" font-size="6.5"><tspan font-style="italic">E. chrysanthemi</tspan> ASNase</text>
<text x="35.6" y="160.3" font-size="6.5">IC<tspan font-size="4.2" dy="2.0">50</tspan><tspan dy="-2.0">=0.053 ± 0.018 U/mL</tspan></text>
<text x="137.5" y="134.6" font-size="6.5"><tspan font-style="italic">E. coli</tspan> ASNase</text>
<text x="137.5" y="142.5" font-size="6.5">IC<tspan font-size="4.2" dy="2.0">50</tspan><tspan dy="-2.0">=0.471 ± 0.01 U/mL</tspan></text>
<text x="137.5" y="152.3" font-size="6.5"><tspan font-style="italic">E. chrysanthemi</tspan> ASNase</text>
<text x="137.5" y="160.3" font-size="6.5">IC<tspan font-size="4.2" dy="2.0">50</tspan><tspan dy="-2.0">=0.060 ± 0.026 U/mL</tspan></text>
<text x="241.0" y="134.6" font-size="6.5"><tspan font-style="italic">E. coli</tspan> ASNase</text>
<text x="241.0" y="142.5" font-size="6.5">IC<tspan font-size="4.2" dy="2.0">50</tspan><tspan dy="-2.0">=0.416 ± 0.005 U/mL</tspan></text>
<text x="241.0" y="152.3" font-size="6.5"><tspan font-style="italic">E. chrysanthemi</tspan> ASNase</text>
<text x="241.0" y="160.3" font-size="6.5">IC<tspan font-size="4.2" dy="2.0">50</tspan><tspan dy="-2.0">=0.042 ± 0.016 U/mL</tspan></text>
<text x="345.0" y="134.6" font-size="6.5"><tspan font-style="italic">E. coli</tspan> ASNase</text>
<text x="345.0" y="142.5" font-size="6.5">IC<tspan font-size="4.2" dy="2.0">50</tspan><tspan dy="-2.0">=0.67 ± 0.22 U/mL</tspan></text>
<text x="345.0" y="152.3" font-size="6.5"><tspan font-style="italic">E. chrysanthemi</tspan> ASNase</text>
<text x="345.0" y="160.3" font-size="6.5">IC<tspan font-size="4.2" dy="2.0">50</tspan><tspan dy="-2.0">=0.07 ± 0.02 U/mL</tspan></text>
<text x="441.0" y="134.6" font-size="6.5"><tspan font-style="italic">E. coli</tspan> ASNase</text>
<text x="441.0" y="142.5" font-size="6.5">IC<tspan font-size="4.2" dy="2.0">50</tspan><tspan dy="-2.0">>1 U/mL</tspan></text>
<text x="441.0" y="152.3" font-size="6.5"><tspan font-style="italic">E. chrysanthemi</tspan> ASNase</text>
<text x="441.0" y="160.3" font-size="6.5">IC<tspan font-size="4.2" dy="2.0">50</tspan><tspan dy="-2.0">=0.09 ± 0.03 U/mL</tspan></text>
<text x="68.90" y="189.60" font-size="9.2" text-anchor="middle" font-weight="bold" textLength="42.90" lengthAdjust="spacingAndGlyphs" class="bb">RPMI 8226</text>
<line x1="35.40" y1="226.30" x2="35.40" y2="271.80" stroke="#000" stroke-width="1.3"/>
<line x1="32.40" y1="233.80" x2="35.40" y2="233.80" stroke="#000" stroke-width="1.0"/>
<text x="30.50" y="236.10" font-size="6.4" text-anchor="end" class="b">100</text>
<line x1="32.40" y1="251.50" x2="35.40" y2="251.50" stroke="#000" stroke-width="1.0"/>
<text x="30.50" y="253.80" font-size="6.4" text-anchor="end" class="b">50</text>
<line x1="32.40" y1="269.20" x2="35.40" y2="269.20" stroke="#000" stroke-width="1.0"/>
<text x="30.50" y="271.50" font-size="6.4" text-anchor="end" class="b">0</text>
<line x1="38.20" y1="269.60" x2="99.90" y2="269.60" stroke="#000" stroke-width="1.2"/>
<line x1="39.10" y1="269.60" x2="39.10" y2="273.20" stroke="#000" stroke-width="1.0"/>
<text x="39.10" y="280.20" font-size="6.8" text-anchor="middle" textLength="9.00" lengthAdjust="spacingAndGlyphs" class="b">0.0</text>
<line x1="64.25" y1="269.60" x2="64.25" y2="273.20" stroke="#000" stroke-width="1.0"/>
<text x="64.25" y="280.20" font-size="6.8" text-anchor="middle" textLength="9.00" lengthAdjust="spacingAndGlyphs" class="b">0.5</text>
<line x1="89.40" y1="269.60" x2="89.40" y2="273.20" stroke="#000" stroke-width="1.0"/>
<text x="89.40" y="280.20" font-size="6.8" text-anchor="middle" textLength="9.00" lengthAdjust="spacingAndGlyphs" class="b">1.0</text>
<text x="68.85" y="290.80" font-size="8.3" text-anchor="middle" textLength="11.90" lengthAdjust="spacingAndGlyphs" class="b">Log</text>
<text x="68.85" y="300.80" font-size="8.3" text-anchor="middle" textLength="55.80" lengthAdjust="spacingAndGlyphs" class="b">[bortezomib nM]</text>
<text x="14.20" y="249.40" font-size="8.1" text-anchor="middle" textLength="76.40" lengthAdjust="spacingAndGlyphs" transform="rotate(-90 14.20 249.40)" class="b">viability (% of control)</text>
<path d="M51.67,238.52 L52.30,238.53 L52.93,238.56 L53.56,238.58 L54.19,238.62 L54.82,238.65 L55.45,238.70 L56.08,238.75 L56.70,238.81 L57.33,238.88 L57.96,238.96 L58.59,239.06 L59.22,239.17 L59.85,239.30 L60.48,239.45 L61.11,239.62 L61.73,239.82 L62.36,240.06 L62.99,240.33 L63.62,240.64 L64.25,241.00 L64.88,241.40 L65.51,241.87 L66.14,242.39 L66.77,242.98 L67.39,243.63 L68.02,244.36 L68.65,245.16 L69.28,246.03 L69.91,246.97 L70.54,247.97 L71.17,249.04 L71.80,250.14 L72.42,251.29 L73.05,252.45 L73.68,253.62 L74.31,254.78 L74.94,255.91 L75.57,257.01 L76.20,258.06 L76.82,259.06 L77.45,259.98 L78.08,260.84 L78.71,261.62 L79.34,262.34 L79.97,262.98 L80.60,263.55 L81.23,264.06 L81.85,264.51 L82.48,264.91 L83.11,265.26 L83.74,265.56 L84.37,265.82 L85.00,266.05 L85.63,266.25 L86.26,266.42 L86.88,266.56 L87.51,266.69 L88.14,266.80 L88.77,266.89 L89.40,266.97" stroke="#000" stroke-width="1.1" fill="none"/>
<path d="M51.67,261.42 L52.30,261.42 L52.93,261.42 L53.56,261.42 L54.19,261.42 L54.82,261.43 L55.45,261.43 L56.08,261.43 L56.70,261.43 L57.33,261.44 L57.96,261.44 L58.59,261.45 L59.22,261.45 L59.85,261.46 L60.48,261.47 L61.11,261.47 L61.73,261.48 L62.36,261.49 L62.99,261.51 L63.62,261.52 L64.25,261.54 L64.88,261.56 L65.51,261.58 L66.14,261.60 L66.77,261.63 L67.39,261.66 L68.02,261.70 L68.65,261.74 L69.28,261.79 L69.91,261.84 L70.54,261.91 L71.17,261.98 L71.80,262.05 L72.42,262.14 L73.05,262.24 L73.68,262.35 L74.31,262.47 L74.94,262.61 L75.57,262.75 L76.20,262.91 L76.82,263.08 L77.45,263.26 L78.08,263.46 L78.71,263.66 L79.34,263.88 L79.97,264.10 L80.60,264.32 L81.23,264.55 L81.85,264.78 L82.48,265.01 L83.11,265.23 L83.74,265.45 L84.37,265.66 L85.00,265.86 L85.63,266.04 L86.26,266.22 L86.88,266.38 L87.51,266.53 L88.14,266.67 L88.77,266.80 L89.40,266.91" stroke="#000" stroke-width="1.1" fill="none"/>
<line x1="51.67" y1="238.05" x2="51.67" y2="239.46" stroke="#000" stroke-width="0.9"/>
<line x1="50.38" y1="238.05" x2="52.97" y2="238.05" stroke="#000" stroke-width="0.9"/>
<line x1="50.38" y1="239.46" x2="52.97" y2="239.46" stroke="#000" stroke-width="0.9"/>
<rect x="50.67" y="237.76" width="2.00" height="2.00" fill="#000"/>
<line x1="57.96" y1="233.80" x2="57.96" y2="243.71" stroke="#000" stroke-width="0.9"/>
<line x1="56.66" y1="233.80" x2="59.26" y2="233.80" stroke="#000" stroke-width="0.9"/>
<line x1="56.66" y1="243.71" x2="59.26" y2="243.71" stroke="#000" stroke-width="0.9"/>
<rect x="56.96" y="237.76" width="2.00" height="2.00" fill="#000"/>
<rect x="63.25" y="239.88" width="2.00" height="2.00" fill="#000"/>
<line x1="70.54" y1="246.19" x2="70.54" y2="249.73" stroke="#000" stroke-width="0.9"/>
<line x1="69.24" y1="246.19" x2="71.84" y2="246.19" stroke="#000" stroke-width="0.9"/>
<line x1="69.24" y1="249.73" x2="71.84" y2="249.73" stroke="#000" stroke-width="0.9"/>
<rect x="69.54" y="246.96" width="2.00" height="2.00" fill="#000"/>
<rect x="75.82" y="257.93" width="2.00" height="2.00" fill="#000"/>
<rect x="82.11" y="263.95" width="2.00" height="2.00" fill="#000"/>
<line x1="89.40" y1="265.66" x2="89.40" y2="267.78" stroke="#000" stroke-width="0.9"/>
<line x1="88.10" y1="265.66" x2="90.70" y2="265.66" stroke="#000" stroke-width="0.9"/>
<line x1="88.10" y1="267.78" x2="90.70" y2="267.78" stroke="#000" stroke-width="0.9"/>
<rect x="88.40" y="265.72" width="2.00" height="2.00" fill="#000"/>
<rect x="50.67" y="260.77" width="2.00" height="2.00" fill="#000"/>
<rect x="56.96" y="261.12" width="2.00" height="2.00" fill="#000"/>
<rect x="63.25" y="260.77" width="2.00" height="2.00" fill="#000"/>
<rect x="69.54" y="258.29" width="2.00" height="2.00" fill="#000"/>
<rect x="75.82" y="261.12" width="2.00" height="2.00" fill="#000"/>
<rect x="82.11" y="263.95" width="2.00" height="2.00" fill="#000"/>
<rect x="88.40" y="266.08" width="2.00" height="2.00" fill="#000"/>
<rect x="38.10" y="259.70" width="2.00" height="2.00" fill="#000"/>
<text x="171.90" y="189.60" font-size="9.2" text-anchor="middle" font-weight="bold" textLength="24.60" lengthAdjust="spacingAndGlyphs" class="bb">OPM2</text>
<line x1="138.40" y1="226.30" x2="138.40" y2="271.80" stroke="#000" stroke-width="1.3"/>
<line x1="135.40" y1="233.80" x2="138.40" y2="233.80" stroke="#000" stroke-width="1.0"/>
<text x="133.50" y="236.10" font-size="6.4" text-anchor="end" class="b">100</text>
<line x1="135.40" y1="251.50" x2="138.40" y2="251.50" stroke="#000" stroke-width="1.0"/>
<text x="133.50" y="253.80" font-size="6.4" text-anchor="end" class="b">50</text>
<line x1="135.40" y1="269.20" x2="138.40" y2="269.20" stroke="#000" stroke-width="1.0"/>
<text x="133.50" y="271.50" font-size="6.4" text-anchor="end" class="b">0</text>
<line x1="141.20" y1="269.60" x2="202.90" y2="269.60" stroke="#000" stroke-width="1.2"/>
<line x1="142.10" y1="269.60" x2="142.10" y2="273.20" stroke="#000" stroke-width="1.0"/>
<text x="142.10" y="280.20" font-size="6.8" text-anchor="middle" textLength="9.00" lengthAdjust="spacingAndGlyphs" class="b">0.0</text>
<line x1="167.25" y1="269.60" x2="167.25" y2="273.20" stroke="#000" stroke-width="1.0"/>
<text x="167.25" y="280.20" font-size="6.8" text-anchor="middle" textLength="9.00" lengthAdjust="spacingAndGlyphs" class="b">0.5</text>
<line x1="192.40" y1="269.60" x2="192.40" y2="273.20" stroke="#000" stroke-width="1.0"/>
<text x="192.40" y="280.20" font-size="6.8" text-anchor="middle" textLength="9.00" lengthAdjust="spacingAndGlyphs" class="b">1.0</text>
<text x="171.85" y="290.80" font-size="8.3" text-anchor="middle" textLength="11.90" lengthAdjust="spacingAndGlyphs" class="b">Log</text>
<text x="171.85" y="300.80" font-size="8.3" text-anchor="middle" textLength="55.80" lengthAdjust="spacingAndGlyphs" class="b">[bortezomib nM]</text>
<text x="118.20" y="249.40" font-size="8.1" text-anchor="middle" textLength="76.40" lengthAdjust="spacingAndGlyphs" transform="rotate(-90 118.20 249.40)" class="b">viability (% of control)</text>
<path d="M154.67,238.40 L155.30,238.54 L155.93,238.66 L156.56,238.78 L157.19,238.89 L157.82,239.01 L158.45,239.14 L159.08,239.28 L159.70,239.44 L160.33,239.61 L160.96,239.82 L161.59,240.04 L162.22,240.26 L162.85,240.50 L163.48,240.75 L164.11,241.02 L164.73,241.31 L165.36,241.63 L165.99,241.98 L166.62,242.36 L167.25,242.79 L167.88,243.26 L168.51,243.77 L169.14,244.32 L169.76,244.89 L170.39,245.50 L171.02,246.13 L171.65,246.78 L172.28,247.44 L172.91,248.12 L173.54,248.81 L174.17,249.53 L174.79,250.31 L175.42,251.13 L176.05,251.96 L176.68,252.81 L177.31,253.65 L177.94,254.46 L178.57,255.23 L179.20,255.95 L179.82,256.60 L180.45,257.18 L181.08,257.72 L181.71,258.22 L182.34,258.68 L182.97,259.11 L183.60,259.52 L184.23,259.89 L184.85,260.25 L185.48,260.59 L186.11,260.92 L186.74,261.22 L187.37,261.48 L188.00,261.71 L188.63,261.91 L189.26,262.10 L189.88,262.28 L190.51,262.45 L191.14,262.62 L191.77,262.81 L192.40,263.00" stroke="#000" stroke-width="1.1" fill="none"/>
<path d="M154.67,257.16 L155.30,257.34 L155.93,257.52 L156.56,257.70 L157.19,257.88 L157.82,258.06 L158.45,258.24 L159.08,258.42 L159.70,258.59 L160.33,258.76 L160.96,258.93 L161.59,259.10 L162.22,259.28 L162.85,259.45 L163.48,259.62 L164.11,259.79 L164.73,259.95 L165.36,260.11 L165.99,260.26 L166.62,260.40 L167.25,260.53 L167.88,260.64 L168.51,260.74 L169.14,260.83 L169.76,260.91 L170.39,260.99 L171.02,261.07 L171.65,261.14 L172.28,261.22 L172.91,261.31 L173.54,261.41 L174.17,261.52 L174.79,261.64 L175.42,261.76 L176.05,261.88 L176.68,262.01 L177.31,262.14 L177.94,262.27 L178.57,262.40 L179.20,262.53 L179.82,262.65 L180.45,262.78 L181.08,262.91 L181.71,263.04 L182.34,263.17 L182.97,263.30 L183.60,263.42 L184.23,263.55 L184.85,263.67 L185.48,263.78 L186.11,263.89 L186.74,263.99 L187.37,264.08 L188.00,264.17 L188.63,264.25 L189.26,264.32 L189.88,264.40 L190.51,264.47 L191.14,264.55 L191.77,264.62 L192.40,264.70" stroke="#000" stroke-width="1.1" fill="none"/>
<line x1="154.67" y1="236.99" x2="154.67" y2="240.53" stroke="#000" stroke-width="0.9"/>
<line x1="153.37" y1="236.99" x2="155.97" y2="236.99" stroke="#000" stroke-width="0.9"/>
<line x1="153.37" y1="240.53" x2="155.97" y2="240.53" stroke="#000" stroke-width="0.9"/>
<rect x="153.67" y="237.76" width="2.00" height="2.00" fill="#000"/>
<rect x="159.96" y="239.17" width="2.00" height="2.00" fill="#000"/>
<line x1="167.25" y1="241.23" x2="167.25" y2="246.19" stroke="#000" stroke-width="0.9"/>
<line x1="165.95" y1="241.23" x2="168.55" y2="241.23" stroke="#000" stroke-width="0.9"/>
<line x1="165.95" y1="246.19" x2="168.55" y2="246.19" stroke="#000" stroke-width="0.9"/>
<rect x="166.25" y="242.71" width="2.00" height="2.00" fill="#000"/>
<rect x="172.54" y="248.38" width="2.00" height="2.00" fill="#000"/>
<rect x="178.82" y="255.46" width="2.00" height="2.00" fill="#000"/>
<rect x="185.11" y="260.06" width="2.00" height="2.00" fill="#000"/>
<line x1="192.40" y1="262.12" x2="192.40" y2="264.95" stroke="#000" stroke-width="0.9"/>
<line x1="191.10" y1="262.12" x2="193.70" y2="262.12" stroke="#000" stroke-width="0.9"/>
<line x1="191.10" y1="264.95" x2="193.70" y2="264.95" stroke="#000" stroke-width="0.9"/>
<rect x="191.40" y="262.54" width="2.00" height="2.00" fill="#000"/>
<rect x="153.67" y="256.16" width="2.00" height="2.00" fill="#000"/>
<rect x="159.96" y="257.93" width="2.00" height="2.00" fill="#000"/>
<rect x="166.25" y="259.70" width="2.00" height="2.00" fill="#000"/>
<rect x="172.54" y="260.41" width="2.00" height="2.00" fill="#000"/>
<rect x="178.82" y="261.83" width="2.00" height="2.00" fill="#000"/>
<rect x="185.11" y="262.89" width="2.00" height="2.00" fill="#000"/>
<line x1="192.40" y1="263.54" x2="192.40" y2="265.66" stroke="#000" stroke-width="0.9"/>
<line x1="191.10" y1="263.54" x2="193.70" y2="263.54" stroke="#000" stroke-width="0.9"/>
<line x1="191.10" y1="265.66" x2="193.70" y2="265.66" stroke="#000" stroke-width="0.9"/>
<rect x="191.40" y="263.60" width="2.00" height="2.00" fill="#000"/>
<line x1="142.10" y1="255.04" x2="142.10" y2="257.87" stroke="#000" stroke-width="0.9"/>
<line x1="141.00" y1="255.04" x2="143.20" y2="255.04" stroke="#000" stroke-width="0.9"/>
<line x1="141.00" y1="257.87" x2="143.20" y2="257.87" stroke="#000" stroke-width="0.9"/>
<rect x="141.10" y="255.46" width="2.00" height="2.00" fill="#000"/>
<text x="275.60" y="189.60" font-size="9.2" text-anchor="middle" font-weight="bold" textLength="20.70" lengthAdjust="spacingAndGlyphs" class="bb">JJN3</text>
<line x1="242.10" y1="226.30" x2="242.10" y2="271.80" stroke="#000" stroke-width="1.3"/>
<line x1="239.10" y1="233.80" x2="242.10" y2="233.80" stroke="#000" stroke-width="1.0"/>
<text x="237.20" y="236.10" font-size="6.4" text-anchor="end" class="b">100</text>
<line x1="239.10" y1="251.50" x2="242.10" y2="251.50" stroke="#000" stroke-width="1.0"/>
<text x="237.20" y="253.80" font-size="6.4" text-anchor="end" class="b">50</text>
<line x1="239.10" y1="269.20" x2="242.10" y2="269.20" stroke="#000" stroke-width="1.0"/>
<text x="237.20" y="271.50" font-size="6.4" text-anchor="end" class="b">0</text>
<line x1="244.90" y1="269.60" x2="306.60" y2="269.60" stroke="#000" stroke-width="1.2"/>
<line x1="245.80" y1="269.60" x2="245.80" y2="273.20" stroke="#000" stroke-width="1.0"/>
<text x="245.80" y="280.20" font-size="6.8" text-anchor="middle" textLength="9.00" lengthAdjust="spacingAndGlyphs" class="b">0.0</text>
<line x1="270.95" y1="269.60" x2="270.95" y2="273.20" stroke="#000" stroke-width="1.0"/>
<text x="270.95" y="280.20" font-size="6.8" text-anchor="middle" textLength="9.00" lengthAdjust="spacingAndGlyphs" class="b">0.5</text>
<line x1="296.10" y1="269.60" x2="296.10" y2="273.20" stroke="#000" stroke-width="1.0"/>
<text x="296.10" y="280.20" font-size="6.8" text-anchor="middle" textLength="9.00" lengthAdjust="spacingAndGlyphs" class="b">1.0</text>
<text x="275.55" y="290.80" font-size="8.3" text-anchor="middle" textLength="11.90" lengthAdjust="spacingAndGlyphs" class="b">Log</text>
<text x="275.55" y="300.80" font-size="8.3" text-anchor="middle" textLength="55.80" lengthAdjust="spacingAndGlyphs" class="b">[bortezomib nM]</text>
<text x="221.50" y="249.40" font-size="8.1" text-anchor="middle" textLength="76.40" lengthAdjust="spacingAndGlyphs" transform="rotate(-90 221.50 249.40)" class="b">viability (% of control)</text>
<path d="M258.38,241.23 L259.00,242.27 L259.63,243.33 L260.26,244.39 L260.89,245.46 L261.52,246.52 L262.15,247.57 L262.78,248.60 L263.40,249.61 L264.03,250.57 L264.66,251.50 L265.29,252.39 L265.92,253.27 L266.55,254.12 L267.18,254.95 L267.81,255.75 L268.44,256.52 L269.06,257.26 L269.69,257.97 L270.32,258.65 L270.95,259.29 L271.58,259.89 L272.21,260.45 L272.84,260.98 L273.46,261.48 L274.09,261.94 L274.72,262.38 L275.35,262.79 L275.98,263.18 L276.61,263.54 L277.24,263.89 L277.87,264.21 L278.50,264.50 L279.12,264.75 L279.75,264.99 L280.38,265.20 L281.01,265.39 L281.64,265.56 L282.27,265.72 L282.90,265.87 L283.52,266.01 L284.15,266.14 L284.78,266.25 L285.41,266.34 L286.04,266.42 L286.67,266.48 L287.30,266.53 L287.93,266.58 L288.55,266.63 L289.18,266.67 L289.81,266.72 L290.44,266.77 L291.07,266.82 L291.70,266.85 L292.33,266.89 L292.96,266.92 L293.58,266.95 L294.21,266.98 L294.84,267.01 L295.47,267.04 L296.10,267.08" stroke="#000" stroke-width="1.1" fill="none"/>
<path d="M258.38,258.72 L259.00,258.97 L259.63,259.23 L260.26,259.48 L260.89,259.74 L261.52,259.99 L262.15,260.24 L262.78,260.50 L263.40,260.75 L264.03,260.99 L264.66,261.24 L265.29,261.48 L265.92,261.73 L266.55,261.97 L267.18,262.22 L267.81,262.47 L268.44,262.70 L269.06,262.93 L269.69,263.15 L270.32,263.35 L270.95,263.54 L271.58,263.70 L272.21,263.85 L272.84,263.99 L273.46,264.11 L274.09,264.22 L274.72,264.33 L275.35,264.44 L275.98,264.54 L276.61,264.66 L277.24,264.77 L277.87,264.90 L278.50,265.03 L279.12,265.17 L279.75,265.30 L280.38,265.44 L281.01,265.57 L281.64,265.69 L282.27,265.81 L282.90,265.92 L283.52,266.01 L284.15,266.10 L284.78,266.17 L285.41,266.23 L286.04,266.28 L286.67,266.33 L287.30,266.37 L287.93,266.41 L288.55,266.45 L289.18,266.50 L289.81,266.55 L290.44,266.59 L291.07,266.64 L291.70,266.69 L292.33,266.73 L292.96,266.78 L293.58,266.82 L294.21,266.87 L294.84,266.91 L295.47,266.96 L296.10,267.01" stroke="#000" stroke-width="1.1" fill="none"/>
<line x1="258.38" y1="240.17" x2="258.38" y2="242.30" stroke="#000" stroke-width="0.9"/>
<line x1="257.07" y1="240.17" x2="259.68" y2="240.17" stroke="#000" stroke-width="0.9"/>
<line x1="257.07" y1="242.30" x2="259.68" y2="242.30" stroke="#000" stroke-width="0.9"/>
<rect x="257.38" y="240.23" width="2.00" height="2.00" fill="#000"/>
<line x1="264.66" y1="250.44" x2="264.66" y2="252.56" stroke="#000" stroke-width="0.9"/>
<line x1="263.36" y1="250.44" x2="265.96" y2="250.44" stroke="#000" stroke-width="0.9"/>
<line x1="263.36" y1="252.56" x2="265.96" y2="252.56" stroke="#000" stroke-width="0.9"/>
<rect x="263.66" y="250.50" width="2.00" height="2.00" fill="#000"/>
<rect x="269.95" y="258.29" width="2.00" height="2.00" fill="#000"/>
<line x1="277.24" y1="263.18" x2="277.24" y2="264.60" stroke="#000" stroke-width="0.9"/>
<line x1="275.94" y1="263.18" x2="278.54" y2="263.18" stroke="#000" stroke-width="0.9"/>
<line x1="275.94" y1="264.60" x2="278.54" y2="264.60" stroke="#000" stroke-width="0.9"/>
<rect x="276.24" y="262.89" width="2.00" height="2.00" fill="#000"/>
<rect x="282.52" y="265.01" width="2.00" height="2.00" fill="#000"/>
<rect x="288.81" y="265.72" width="2.00" height="2.00" fill="#000"/>
<rect x="295.10" y="266.08" width="2.00" height="2.00" fill="#000"/>
<rect x="257.38" y="257.72" width="2.00" height="2.00" fill="#000"/>
<rect x="263.66" y="260.06" width="2.00" height="2.00" fill="#000"/>
<rect x="269.95" y="262.89" width="2.00" height="2.00" fill="#000"/>
<rect x="276.24" y="263.60" width="2.00" height="2.00" fill="#000"/>
<rect x="282.52" y="265.01" width="2.00" height="2.00" fill="#000"/>
<rect x="288.81" y="265.55" width="2.00" height="2.00" fill="#000"/>
<rect x="295.10" y="266.01" width="2.00" height="2.00" fill="#000"/>
<rect x="244.80" y="257.23" width="2.00" height="2.00" fill="#000"/>
<text x="379.10" y="189.60" font-size="9.2" text-anchor="middle" font-weight="bold" textLength="47.70" lengthAdjust="spacingAndGlyphs" class="bb">KMS-12-BM</text>
<line x1="345.60" y1="226.30" x2="345.60" y2="267.00" stroke="#000" stroke-width="1.3"/>
<line x1="342.60" y1="232.40" x2="345.60" y2="232.40" stroke="#000" stroke-width="1.0"/>
<text x="340.70" y="234.70" font-size="6.4" text-anchor="end" class="b">100</text>
<line x1="342.60" y1="248.70" x2="345.60" y2="248.70" stroke="#000" stroke-width="1.0"/>
<text x="340.70" y="251.00" font-size="6.4" text-anchor="end" class="b">50</text>
<line x1="342.60" y1="265.00" x2="345.60" y2="265.00" stroke="#000" stroke-width="1.0"/>
<text x="340.70" y="267.30" font-size="6.4" text-anchor="end" class="b">0</text>
<line x1="348.40" y1="269.60" x2="410.10" y2="269.60" stroke="#000" stroke-width="1.2"/>
<line x1="349.30" y1="269.60" x2="349.30" y2="273.20" stroke="#000" stroke-width="1.0"/>
<text x="349.30" y="280.20" font-size="6.8" text-anchor="middle" textLength="9.00" lengthAdjust="spacingAndGlyphs" class="b">0.0</text>
<line x1="374.45" y1="269.60" x2="374.45" y2="273.20" stroke="#000" stroke-width="1.0"/>
<text x="374.45" y="280.20" font-size="6.8" text-anchor="middle" textLength="9.00" lengthAdjust="spacingAndGlyphs" class="b">0.5</text>
<line x1="399.60" y1="269.60" x2="399.60" y2="273.20" stroke="#000" stroke-width="1.0"/>
<text x="399.60" y="280.20" font-size="6.8" text-anchor="middle" textLength="9.00" lengthAdjust="spacingAndGlyphs" class="b">1.0</text>
<text x="379.05" y="290.80" font-size="8.3" text-anchor="middle" textLength="11.90" lengthAdjust="spacingAndGlyphs" class="b">Log</text>
<text x="379.05" y="300.80" font-size="8.3" text-anchor="middle" textLength="55.80" lengthAdjust="spacingAndGlyphs" class="b">[bortezomib nM]</text>
<text x="325.00" y="249.40" font-size="8.1" text-anchor="middle" textLength="76.40" lengthAdjust="spacingAndGlyphs" transform="rotate(-90 325.00 249.40)" class="b">viability (% of control)</text>
<path d="M361.88,229.88 L362.50,229.89 L363.13,229.91 L363.76,229.93 L364.39,229.95 L365.02,229.98 L365.65,230.01 L366.28,230.05 L366.91,230.09 L367.53,230.14 L368.16,230.20 L368.79,230.27 L369.42,230.35 L370.05,230.44 L370.68,230.55 L371.31,230.68 L371.94,230.82 L372.56,230.99 L373.19,231.18 L373.82,231.41 L374.45,231.66 L375.08,231.96 L375.71,232.29 L376.34,232.67 L376.97,233.10 L377.59,233.58 L378.22,234.12 L378.85,234.72 L379.48,235.38 L380.11,236.10 L380.74,236.88 L381.37,237.72 L382.00,238.61 L382.62,239.54 L383.25,240.51 L383.88,241.50 L384.51,242.51 L385.14,243.51 L385.77,244.50 L386.40,245.47 L387.02,246.40 L387.65,247.29 L388.28,248.13 L388.91,248.91 L389.54,249.63 L390.17,250.29 L390.80,250.89 L391.43,251.43 L392.06,251.91 L392.68,252.34 L393.31,252.72 L393.94,253.06 L394.57,253.35 L395.20,253.61 L395.83,253.83 L396.46,254.02 L397.09,254.19 L397.71,254.34 L398.34,254.46 L398.97,254.57 L399.60,254.66" stroke="#000" stroke-width="1.1" fill="none"/>
<path d="M361.88,253.26 L362.50,253.26 L363.13,253.26 L363.76,253.26 L364.39,253.26 L365.02,253.26 L365.65,253.26 L366.28,253.26 L366.91,253.26 L367.53,253.25 L368.16,253.25 L368.79,253.25 L369.42,253.25 L370.05,253.25 L370.68,253.25 L371.31,253.25 L371.94,253.25 L372.56,253.25 L373.19,253.26 L373.82,253.26 L374.45,253.26 L375.08,253.26 L375.71,253.26 L376.34,253.24 L376.97,253.23 L377.59,253.21 L378.22,253.19 L378.85,253.18 L379.48,253.16 L380.11,253.16 L380.74,253.16 L381.37,253.17 L382.00,253.19 L382.62,253.23 L383.25,253.28 L383.88,253.34 L384.51,253.43 L385.14,253.56 L385.77,253.77 L386.40,254.04 L387.02,254.34 L387.65,254.66 L388.28,254.98 L388.91,255.28 L389.54,255.55 L390.17,255.80 L390.80,256.06 L391.43,256.30 L392.06,256.53 L392.68,256.72 L393.31,256.85 L393.94,256.94 L394.57,257.00 L395.20,257.05 L395.83,257.08 L396.46,257.10 L397.09,257.11 L397.71,257.12 L398.34,257.13 L398.97,257.15 L399.60,257.18" stroke="#000" stroke-width="1.1" fill="none"/>
<line x1="361.88" y1="227.84" x2="361.88" y2="231.75" stroke="#000" stroke-width="0.9"/>
<line x1="360.57" y1="227.84" x2="363.18" y2="227.84" stroke="#000" stroke-width="0.9"/>
<line x1="360.57" y1="231.75" x2="363.18" y2="231.75" stroke="#000" stroke-width="0.9"/>
<rect x="360.88" y="228.79" width="2.00" height="2.00" fill="#000"/>
<line x1="368.16" y1="228.16" x2="368.16" y2="231.42" stroke="#000" stroke-width="0.9"/>
<line x1="366.86" y1="228.16" x2="369.46" y2="228.16" stroke="#000" stroke-width="0.9"/>
<line x1="366.86" y1="231.42" x2="369.46" y2="231.42" stroke="#000" stroke-width="0.9"/>
<rect x="367.16" y="228.79" width="2.00" height="2.00" fill="#000"/>
<line x1="374.45" y1="229.14" x2="374.45" y2="235.66" stroke="#000" stroke-width="0.9"/>
<line x1="373.15" y1="229.14" x2="375.75" y2="229.14" stroke="#000" stroke-width="0.9"/>
<line x1="373.15" y1="235.66" x2="375.75" y2="235.66" stroke="#000" stroke-width="0.9"/>
<rect x="373.45" y="231.40" width="2.00" height="2.00" fill="#000"/>
<line x1="380.74" y1="233.70" x2="380.74" y2="241.53" stroke="#000" stroke-width="0.9"/>
<line x1="379.44" y1="233.70" x2="382.04" y2="233.70" stroke="#000" stroke-width="0.9"/>
<line x1="379.44" y1="241.53" x2="382.04" y2="241.53" stroke="#000" stroke-width="0.9"/>
<rect x="379.74" y="236.62" width="2.00" height="2.00" fill="#000"/>
<line x1="387.02" y1="243.48" x2="387.02" y2="248.70" stroke="#000" stroke-width="0.9"/>
<line x1="385.72" y1="243.48" x2="388.32" y2="243.48" stroke="#000" stroke-width="0.9"/>
<line x1="385.72" y1="248.70" x2="388.32" y2="248.70" stroke="#000" stroke-width="0.9"/>
<rect x="386.02" y="245.09" width="2.00" height="2.00" fill="#000"/>
<line x1="393.31" y1="250.00" x2="393.31" y2="253.92" stroke="#000" stroke-width="0.9"/>
<line x1="392.01" y1="250.00" x2="394.61" y2="250.00" stroke="#000" stroke-width="0.9"/>
<line x1="392.01" y1="253.92" x2="394.61" y2="253.92" stroke="#000" stroke-width="0.9"/>
<rect x="392.31" y="250.96" width="2.00" height="2.00" fill="#000"/>
<line x1="399.60" y1="252.61" x2="399.60" y2="256.52" stroke="#000" stroke-width="0.9"/>
<line x1="398.30" y1="252.61" x2="400.90" y2="252.61" stroke="#000" stroke-width="0.9"/>
<line x1="398.30" y1="256.52" x2="400.90" y2="256.52" stroke="#000" stroke-width="0.9"/>
<rect x="398.60" y="253.57" width="2.00" height="2.00" fill="#000"/>
<line x1="361.88" y1="251.96" x2="361.88" y2="254.57" stroke="#000" stroke-width="0.9"/>
<line x1="360.57" y1="251.96" x2="363.18" y2="251.96" stroke="#000" stroke-width="0.9"/>
<line x1="360.57" y1="254.57" x2="363.18" y2="254.57" stroke="#000" stroke-width="0.9"/>
<rect x="360.88" y="252.26" width="2.00" height="2.00" fill="#000"/>
<line x1="368.16" y1="252.61" x2="368.16" y2="254.57" stroke="#000" stroke-width="0.9"/>
<line x1="366.86" y1="252.61" x2="369.46" y2="252.61" stroke="#000" stroke-width="0.9"/>
<line x1="366.86" y1="254.57" x2="369.46" y2="254.57" stroke="#000" stroke-width="0.9"/>
<rect x="367.16" y="252.59" width="2.00" height="2.00" fill="#000"/>
<line x1="374.45" y1="252.61" x2="374.45" y2="253.92" stroke="#000" stroke-width="0.9"/>
<line x1="373.15" y1="252.61" x2="375.75" y2="252.61" stroke="#000" stroke-width="0.9"/>
<line x1="373.15" y1="253.92" x2="375.75" y2="253.92" stroke="#000" stroke-width="0.9"/>
<rect x="373.45" y="252.26" width="2.00" height="2.00" fill="#000"/>
<line x1="380.74" y1="252.29" x2="380.74" y2="254.89" stroke="#000" stroke-width="0.9"/>
<line x1="379.44" y1="252.29" x2="382.04" y2="252.29" stroke="#000" stroke-width="0.9"/>
<line x1="379.44" y1="254.89" x2="382.04" y2="254.89" stroke="#000" stroke-width="0.9"/>
<rect x="379.74" y="252.59" width="2.00" height="2.00" fill="#000"/>
<line x1="387.02" y1="252.29" x2="387.02" y2="254.89" stroke="#000" stroke-width="0.9"/>
<line x1="385.72" y1="252.29" x2="388.32" y2="252.29" stroke="#000" stroke-width="0.9"/>
<line x1="385.72" y1="254.89" x2="388.32" y2="254.89" stroke="#000" stroke-width="0.9"/>
<rect x="386.02" y="252.59" width="2.00" height="2.00" fill="#000"/>
<line x1="393.31" y1="256.52" x2="393.31" y2="257.83" stroke="#000" stroke-width="0.9"/>
<line x1="392.01" y1="256.52" x2="394.61" y2="256.52" stroke="#000" stroke-width="0.9"/>
<line x1="392.01" y1="257.83" x2="394.61" y2="257.83" stroke="#000" stroke-width="0.9"/>
<rect x="392.31" y="256.18" width="2.00" height="2.00" fill="#000"/>
<line x1="399.60" y1="255.22" x2="399.60" y2="258.48" stroke="#000" stroke-width="0.9"/>
<line x1="398.30" y1="255.22" x2="400.90" y2="255.22" stroke="#000" stroke-width="0.9"/>
<line x1="398.30" y1="258.48" x2="400.90" y2="258.48" stroke="#000" stroke-width="0.9"/>
<rect x="398.60" y="255.85" width="2.00" height="2.00" fill="#000"/>
<line x1="349.30" y1="251.31" x2="349.30" y2="253.92" stroke="#000" stroke-width="0.9"/>
<line x1="348.20" y1="251.31" x2="350.40" y2="251.31" stroke="#000" stroke-width="0.9"/>
<line x1="348.20" y1="253.92" x2="350.40" y2="253.92" stroke="#000" stroke-width="0.9"/>
<rect x="348.30" y="251.61" width="2.00" height="2.00" fill="#000"/>
<text x="482.40" y="189.60" font-size="9.2" text-anchor="middle" font-weight="bold" textLength="16.40" lengthAdjust="spacingAndGlyphs" class="bb">XG1</text>
<line x1="448.90" y1="226.30" x2="448.90" y2="267.00" stroke="#000" stroke-width="1.3"/>
<line x1="445.90" y1="232.40" x2="448.90" y2="232.40" stroke="#000" stroke-width="1.0"/>
<text x="444.00" y="234.70" font-size="6.4" text-anchor="end" class="b">100</text>
<line x1="445.90" y1="248.70" x2="448.90" y2="248.70" stroke="#000" stroke-width="1.0"/>
<text x="444.00" y="251.00" font-size="6.4" text-anchor="end" class="b">50</text>
<line x1="445.90" y1="265.00" x2="448.90" y2="265.00" stroke="#000" stroke-width="1.0"/>
<text x="444.00" y="267.30" font-size="6.4" text-anchor="end" class="b">0</text>
<line x1="451.70" y1="269.60" x2="513.40" y2="269.60" stroke="#000" stroke-width="1.2"/>
<line x1="452.60" y1="269.60" x2="452.60" y2="273.20" stroke="#000" stroke-width="1.0"/>
<text x="452.60" y="280.20" font-size="6.8" text-anchor="middle" textLength="9.00" lengthAdjust="spacingAndGlyphs" class="b">0.0</text>
<line x1="477.75" y1="269.60" x2="477.75" y2="273.20" stroke="#000" stroke-width="1.0"/>
<text x="477.75" y="280.20" font-size="6.8" text-anchor="middle" textLength="9.00" lengthAdjust="spacingAndGlyphs" class="b">0.5</text>
<line x1="502.90" y1="269.60" x2="502.90" y2="273.20" stroke="#000" stroke-width="1.0"/>
<text x="502.90" y="280.20" font-size="6.8" text-anchor="middle" textLength="9.00" lengthAdjust="spacingAndGlyphs" class="b">1.0</text>
<text x="482.35" y="290.80" font-size="8.3" text-anchor="middle" textLength="11.90" lengthAdjust="spacingAndGlyphs" class="b">Log</text>
<text x="482.35" y="300.80" font-size="8.3" text-anchor="middle" textLength="55.80" lengthAdjust="spacingAndGlyphs" class="b">[bortezomib nM]</text>
<text x="429.10" y="249.40" font-size="8.1" text-anchor="middle" textLength="76.40" lengthAdjust="spacingAndGlyphs" transform="rotate(-90 429.10 249.40)" class="b">viability (% of control)</text>
<path d="M465.17,231.50 L465.80,231.51 L466.43,231.53 L467.06,231.54 L467.69,231.56 L468.32,231.58 L468.95,231.60 L469.58,231.62 L470.20,231.65 L470.83,231.68 L471.46,231.72 L472.09,231.76 L472.72,231.80 L473.35,231.86 L473.98,231.91 L474.61,231.98 L475.23,232.06 L475.86,232.14 L476.49,232.24 L477.12,232.35 L477.75,232.47 L478.38,232.61 L479.01,232.76 L479.64,232.93 L480.26,233.13 L480.89,233.34 L481.52,233.59 L482.15,233.86 L482.78,234.16 L483.41,234.49 L484.04,234.85 L484.67,235.25 L485.29,235.69 L485.92,236.16 L486.55,236.68 L487.18,237.23 L487.81,237.83 L488.44,238.46 L489.07,239.12 L489.70,239.82 L490.32,240.55 L490.95,241.30 L491.58,242.07 L492.21,242.86 L492.84,243.65 L493.47,244.44 L494.10,245.22 L494.73,245.99 L495.35,246.74 L495.98,247.47 L496.61,248.17 L497.24,248.84 L497.87,249.47 L498.50,250.06 L499.13,250.62 L499.76,251.13 L500.38,251.61 L501.01,252.04 L501.64,252.44 L502.27,252.81 L502.90,253.14" stroke="#000" stroke-width="1.1" fill="none"/>
<path d="M465.17,248.70 L465.80,248.71 L466.43,248.74 L467.06,248.78 L467.69,248.82 L468.32,248.87 L468.95,248.93 L469.58,248.99 L470.20,249.06 L470.83,249.14 L471.46,249.22 L472.09,249.30 L472.72,249.40 L473.35,249.49 L473.98,249.59 L474.61,249.69 L475.23,249.80 L475.86,249.91 L476.49,250.03 L477.12,250.15 L477.75,250.27 L478.38,250.40 L479.01,250.53 L479.64,250.67 L480.26,250.81 L480.89,250.95 L481.52,251.09 L482.15,251.24 L482.78,251.40 L483.41,251.55 L484.04,251.71 L484.67,251.87 L485.29,252.04 L485.92,252.21 L486.55,252.38 L487.18,252.55 L487.81,252.73 L488.44,252.91 L489.07,253.10 L489.70,253.28 L490.32,253.47 L490.95,253.66 L491.58,253.86 L492.21,254.06 L492.84,254.26 L493.47,254.46 L494.10,254.67 L494.73,254.88 L495.35,255.09 L495.98,255.30 L496.61,255.52 L497.24,255.74 L497.87,255.96 L498.50,256.18 L499.13,256.41 L499.76,256.64 L500.38,256.87 L501.01,257.11 L501.64,257.35 L502.27,257.59 L502.90,257.83" stroke="#000" stroke-width="1.1" fill="none"/>
<line x1="465.17" y1="231.42" x2="465.17" y2="232.73" stroke="#000" stroke-width="0.9"/>
<line x1="463.87" y1="231.42" x2="466.47" y2="231.42" stroke="#000" stroke-width="0.9"/>
<line x1="463.87" y1="232.73" x2="466.47" y2="232.73" stroke="#000" stroke-width="0.9"/>
<rect x="464.17" y="231.07" width="2.00" height="2.00" fill="#000"/>
<rect x="470.46" y="230.42" width="2.00" height="2.00" fill="#000"/>
<line x1="477.75" y1="231.10" x2="477.75" y2="233.70" stroke="#000" stroke-width="0.9"/>
<line x1="476.45" y1="231.10" x2="479.05" y2="231.10" stroke="#000" stroke-width="0.9"/>
<line x1="476.45" y1="233.70" x2="479.05" y2="233.70" stroke="#000" stroke-width="0.9"/>
<rect x="476.75" y="231.40" width="2.00" height="2.00" fill="#000"/>
<line x1="484.04" y1="232.07" x2="484.04" y2="234.68" stroke="#000" stroke-width="0.9"/>
<line x1="482.74" y1="232.07" x2="485.34" y2="232.07" stroke="#000" stroke-width="0.9"/>
<line x1="482.74" y1="234.68" x2="485.34" y2="234.68" stroke="#000" stroke-width="0.9"/>
<rect x="483.04" y="232.38" width="2.00" height="2.00" fill="#000"/>
<rect x="489.32" y="239.88" width="2.00" height="2.00" fill="#000"/>
<rect x="501.90" y="253.24" width="2.00" height="2.00" fill="#000"/>
<line x1="465.17" y1="247.72" x2="465.17" y2="250.33" stroke="#000" stroke-width="0.9"/>
<line x1="463.87" y1="247.72" x2="466.47" y2="247.72" stroke="#000" stroke-width="0.9"/>
<line x1="463.87" y1="250.33" x2="466.47" y2="250.33" stroke="#000" stroke-width="0.9"/>
<rect x="464.17" y="248.03" width="2.00" height="2.00" fill="#000"/>
<rect x="470.46" y="248.03" width="2.00" height="2.00" fill="#000"/>
<rect x="476.75" y="249.66" width="2.00" height="2.00" fill="#000"/>
<line x1="484.04" y1="250.00" x2="484.04" y2="252.61" stroke="#000" stroke-width="0.9"/>
<line x1="482.74" y1="250.00" x2="485.34" y2="250.00" stroke="#000" stroke-width="0.9"/>
<line x1="482.74" y1="252.61" x2="485.34" y2="252.61" stroke="#000" stroke-width="0.9"/>
<rect x="483.04" y="250.31" width="2.00" height="2.00" fill="#000"/>
<rect x="489.32" y="251.61" width="2.00" height="2.00" fill="#000"/>
<rect x="495.61" y="254.55" width="2.00" height="2.00" fill="#000"/>
<rect x="501.90" y="256.83" width="2.00" height="2.00" fill="#000"/>
<rect x="451.60" y="249.33" width="2.00" height="2.00" fill="#000"/>
<line x1="35.10" y1="200.50" x2="41.20" y2="200.50" stroke="#000" stroke-width="0.9"/>
<rect x="37.00" y="199.40" width="2.20" height="2.20" fill="#000"/>
<line x1="35.10" y1="209.60" x2="41.20" y2="209.60" stroke="#000" stroke-width="0.9"/>
<rect x="37.00" y="208.50" width="2.20" height="2.20" fill="#000"/>
<line x1="35.10" y1="219.20" x2="41.20" y2="219.20" stroke="#000" stroke-width="0.9"/>
<rect x="37.00" y="218.10" width="2.20" height="2.20" fill="#000"/>
<text x="43.30" y="202.60" font-size="6.5" textLength="32.20" lengthAdjust="spacingAndGlyphs">bortezomib</text>
<text x="43.30" y="211.80" font-size="6.5" textLength="59.20" lengthAdjust="spacingAndGlyphs">bortezomib+ASNase</text>
<text x="43.30" y="221.20" font-size="6.5" textLength="56.30" lengthAdjust="spacingAndGlyphs">ASNase (0.1 U/mL)</text>
<text x="73.90" y="329.30" font-size="9.2" text-anchor="middle" font-weight="bold" textLength="42.50" lengthAdjust="spacingAndGlyphs" class="bb">RPMI 8226</text>
<line x1="34.60" y1="343.20" x2="34.60" y2="395.20" stroke="#000" stroke-width="1.1"/>
<line x1="31.60" y1="345.00" x2="34.60" y2="345.00" stroke="#000" stroke-width="1.0"/>
<text x="29.20" y="347.20" font-size="6.3" text-anchor="end" class="b">0.6</text>
<line x1="31.60" y1="361.53" x2="34.60" y2="361.53" stroke="#000" stroke-width="1.0"/>
<text x="29.20" y="363.73" font-size="6.3" text-anchor="end" class="b">0.4</text>
<line x1="31.60" y1="378.07" x2="34.60" y2="378.07" stroke="#000" stroke-width="1.0"/>
<text x="29.20" y="380.27" font-size="6.3" text-anchor="end" class="b">0.2</text>
<line x1="31.60" y1="394.60" x2="34.60" y2="394.60" stroke="#000" stroke-width="1.0"/>
<text x="29.20" y="396.80" font-size="6.3" text-anchor="end" class="b">0.0</text>
<line x1="33.10" y1="386.33" x2="34.60" y2="386.33" stroke="#000" stroke-width="0.8"/>
<line x1="33.10" y1="369.80" x2="34.60" y2="369.80" stroke="#000" stroke-width="0.8"/>
<line x1="33.10" y1="353.27" x2="34.60" y2="353.27" stroke="#000" stroke-width="0.8"/>
<line x1="34.60" y1="394.60" x2="112.80" y2="394.60" stroke="#000" stroke-width="1.1"/>
<line x1="34.60" y1="394.60" x2="34.60" y2="398.20" stroke="#000" stroke-width="1.0"/>
<text x="34.20" y="405.60" font-size="5.7" text-anchor="middle" class="b">0</text>
<line x1="60.00" y1="394.60" x2="60.00" y2="398.20" stroke="#000" stroke-width="1.0"/>
<text x="59.60" y="405.60" font-size="5.7" text-anchor="middle" class="b">5</text>
<line x1="85.40" y1="394.60" x2="85.40" y2="398.20" stroke="#000" stroke-width="1.0"/>
<text x="85.00" y="405.60" font-size="5.7" text-anchor="middle" class="b">10</text>
<line x1="110.80" y1="394.60" x2="110.80" y2="398.20" stroke="#000" stroke-width="1.0"/>
<text x="110.40" y="405.60" font-size="5.7" text-anchor="middle" class="b">15</text>
<line x1="47.30" y1="394.60" x2="47.30" y2="396.40" stroke="#000" stroke-width="0.8"/>
<line x1="72.70" y1="394.60" x2="72.70" y2="396.40" stroke="#000" stroke-width="0.8"/>
<line x1="98.10" y1="394.60" x2="98.10" y2="396.40" stroke="#000" stroke-width="0.8"/>
<text x="70.65" y="418.90" font-size="8.0" text-anchor="middle" textLength="57.70" lengthAdjust="spacingAndGlyphs" class="b">bortezomib (nM)</text>
<text x="14.00" y="369.90" font-size="7.8" text-anchor="middle" textLength="52.00" lengthAdjust="spacingAndGlyphs" transform="rotate(-90 14.00 369.90)" class="b">ASNase (U/ml)</text>
<line x1="34.60" y1="365.67" x2="81.34" y2="394.60" stroke="#000" stroke-width="1.3"/>
<line x1="42.10" y1="385.80" x2="47.30" y2="385.80" stroke="#000" stroke-width="1.0"/>
<line x1="44.70" y1="382.80" x2="44.70" y2="388.80" stroke="#000" stroke-width="1.0"/>
<line x1="43.10" y1="382.80" x2="46.30" y2="382.80" stroke="#000" stroke-width="1.0"/>
<line x1="43.10" y1="388.80" x2="46.30" y2="388.80" stroke="#000" stroke-width="1.0"/>
<rect x="43.70" y="384.80" width="2.00" height="2.00" fill="#000"/>
<rect x="33.50" y="364.57" width="2.20" height="2.20" fill="#000"/>
<text x="193.10" y="329.30" font-size="9.2" text-anchor="middle" font-weight="bold" textLength="43.20" lengthAdjust="spacingAndGlyphs" class="bb">RPMI 8226</text>
<line x1="160.50" y1="349.50" x2="160.50" y2="396.50" stroke="#000" stroke-width="1.2"/>
<line x1="157.50" y1="394.60" x2="160.50" y2="394.60" stroke="#000" stroke-width="1.0"/>
<text x="153.90" y="396.80" font-size="6.0" text-anchor="end" class="b">0</text>
<line x1="157.50" y1="383.83" x2="160.50" y2="383.83" stroke="#000" stroke-width="1.0"/>
<text x="153.90" y="386.03" font-size="6.0" text-anchor="end" class="b">10</text>
<line x1="157.50" y1="373.05" x2="160.50" y2="373.05" stroke="#000" stroke-width="1.0"/>
<text x="153.90" y="375.25" font-size="6.0" text-anchor="end" class="b">20</text>
<line x1="157.50" y1="362.27" x2="160.50" y2="362.27" stroke="#000" stroke-width="1.0"/>
<text x="153.90" y="364.47" font-size="6.0" text-anchor="end" class="b">30</text>
<line x1="157.50" y1="351.50" x2="160.50" y2="351.50" stroke="#000" stroke-width="1.0"/>
<text x="153.90" y="353.70" font-size="6.0" text-anchor="end" class="b">40</text>
<line x1="160.50" y1="394.60" x2="226.00" y2="394.60" stroke="#000" stroke-width="1.2"/>
<rect x="162.15" y="373.27" width="7.50" height="21.33" fill="#8c8c8c"/>
<line x1="165.90" y1="373.27" x2="165.90" y2="363.78" stroke="#2a2a2a" stroke-width="1.2"/>
<line x1="163.70" y1="363.78" x2="168.10" y2="363.78" stroke="#2a2a2a" stroke-width="1.4"/>
<rect x="163.40" y="359.73" width="1.7" height="1.7" rx="0.4" fill="#111"/>
<rect x="166.70" y="359.73" width="1.7" height="1.7" rx="0.4" fill="#111"/>
<line x1="165.90" y1="394.60" x2="165.90" y2="398.00" stroke="#000" stroke-width="1.0"/>
<rect x="172.95" y="373.27" width="7.50" height="21.33" fill="#6f6f6f"/>
<line x1="176.70" y1="373.27" x2="176.70" y2="368.42" stroke="#2a2a2a" stroke-width="1.2"/>
<line x1="174.50" y1="368.42" x2="178.90" y2="368.42" stroke="#2a2a2a" stroke-width="1.4"/>
<rect x="172.55" y="364.37" width="1.7" height="1.7" rx="0.4" fill="#111"/>
<rect x="175.85" y="364.37" width="1.7" height="1.7" rx="0.4" fill="#111"/>
<rect x="179.15" y="364.37" width="1.7" height="1.7" rx="0.4" fill="#111"/>
<line x1="176.70" y1="394.60" x2="176.70" y2="398.00" stroke="#000" stroke-width="1.0"/>
<line x1="187.50" y1="394.60" x2="187.50" y2="391.69" stroke="#2a2a2a" stroke-width="1.2"/>
<line x1="185.30" y1="391.69" x2="189.70" y2="391.69" stroke="#2a2a2a" stroke-width="1.4"/>
<line x1="187.50" y1="394.60" x2="187.50" y2="398.00" stroke="#000" stroke-width="1.0"/>
<rect x="194.55" y="392.01" width="7.50" height="2.59" fill="#5d5d5d"/>
<line x1="198.30" y1="392.01" x2="198.30" y2="390.18" stroke="#2a2a2a" stroke-width="1.2"/>
<line x1="196.10" y1="390.18" x2="200.50" y2="390.18" stroke="#2a2a2a" stroke-width="1.4"/>
<rect x="195.80" y="386.13" width="1.7" height="1.7" rx="0.4" fill="#111"/>
<rect x="199.10" y="386.13" width="1.7" height="1.7" rx="0.4" fill="#111"/>
<line x1="198.30" y1="394.60" x2="198.30" y2="398.00" stroke="#000" stroke-width="1.0"/>
<rect x="205.35" y="376.17" width="7.50" height="18.43" fill="#8f8f8f"/>
<line x1="209.10" y1="376.17" x2="209.10" y2="365.08" stroke="#2a2a2a" stroke-width="1.2"/>
<line x1="206.90" y1="365.08" x2="211.30" y2="365.08" stroke="#2a2a2a" stroke-width="1.4"/>
<rect x="208.25" y="361.03" width="1.7" height="1.7" rx="0.4" fill="#111"/>
<line x1="209.10" y1="394.60" x2="209.10" y2="398.00" stroke="#000" stroke-width="1.0"/>
<rect x="216.15" y="376.17" width="7.50" height="18.43" fill="#575757"/>
<line x1="219.90" y1="376.17" x2="219.90" y2="363.57" stroke="#2a2a2a" stroke-width="1.2"/>
<line x1="217.70" y1="363.57" x2="222.10" y2="363.57" stroke="#2a2a2a" stroke-width="1.4"/>
<rect x="219.05" y="359.52" width="1.7" height="1.7" rx="0.4" fill="#111"/>
<line x1="219.90" y1="394.60" x2="219.90" y2="398.00" stroke="#000" stroke-width="1.0"/>
<text x="130.90" y="372.10" font-size="8.4" text-anchor="middle" textLength="72.20" lengthAdjust="spacingAndGlyphs" transform="rotate(-90 130.90 372.10)" class="b">Apo 2.7 positive cells</text>
<text x="141.40" y="372.15" font-size="8.1" text-anchor="middle" textLength="78.70" lengthAdjust="spacingAndGlyphs" transform="rotate(-90 141.40 372.15)" class="b">(%, vehicle subtracted)</text>
<text class="b" x="167.30" y="406.80" font-size="6.5" text-anchor="end" transform="rotate(-45 167.30 406.80)" xml:space="preserve"><tspan font-weight="normal" font-style="normal">BPTES</tspan></text>
<text class="b" x="178.10" y="406.80" font-size="6.5" text-anchor="end" transform="rotate(-45 178.10 406.80)" xml:space="preserve"><tspan font-weight="normal" font-style="normal">CB-839</tspan></text>
<text class="b" x="188.90" y="406.80" font-size="6.5" text-anchor="end" transform="rotate(-45 188.90 406.80)" xml:space="preserve"><tspan font-weight="normal" font-style="italic">E. coli </tspan><tspan font-weight="bold" font-style="normal">ASNase</tspan></text>
<text class="b" x="199.70" y="406.80" font-size="6.5" text-anchor="end" transform="rotate(-45 199.70 406.80)" xml:space="preserve"><tspan font-weight="normal" font-style="italic">E. chrysanthemi </tspan><tspan font-weight="bold" font-style="normal">ASNase</tspan></text>
<text class="b" x="210.50" y="406.80" font-size="6.5" text-anchor="end" transform="rotate(-45 210.50 406.80)" xml:space="preserve"><tspan font-weight="bold" font-style="normal">bortezomib</tspan></text>
<text class="b" x="221.30" y="406.80" font-size="6.5" text-anchor="end" transform="rotate(-44 221.30 406.80)" xml:space="preserve"><tspan font-weight="normal" font-style="italic">E. chrysanthemi </tspan><tspan font-weight="bold" font-style="normal">ASNase  + bortezomib</tspan></text>
<text x="299.60" y="329.30" font-size="9.2" text-anchor="middle" font-weight="bold" textLength="20.10" lengthAdjust="spacingAndGlyphs" class="bb">JJN3</text>
<line x1="267.30" y1="349.50" x2="267.30" y2="396.50" stroke="#000" stroke-width="1.2"/>
<line x1="264.30" y1="394.60" x2="267.30" y2="394.60" stroke="#000" stroke-width="1.0"/>
<text x="260.70" y="396.80" font-size="6.0" text-anchor="end" class="b">0</text>
<line x1="264.30" y1="383.83" x2="267.30" y2="383.83" stroke="#000" stroke-width="1.0"/>
<text x="260.70" y="386.03" font-size="6.0" text-anchor="end" class="b">20</text>
<line x1="264.30" y1="373.05" x2="267.30" y2="373.05" stroke="#000" stroke-width="1.0"/>
<text x="260.70" y="375.25" font-size="6.0" text-anchor="end" class="b">40</text>
<line x1="264.30" y1="362.27" x2="267.30" y2="362.27" stroke="#000" stroke-width="1.0"/>
<text x="260.70" y="364.47" font-size="6.0" text-anchor="end" class="b">60</text>
<line x1="264.30" y1="351.50" x2="267.30" y2="351.50" stroke="#000" stroke-width="1.0"/>
<text x="260.70" y="353.70" font-size="6.0" text-anchor="end" class="b">80</text>
<line x1="267.30" y1="394.60" x2="332.80" y2="394.60" stroke="#000" stroke-width="1.2"/>
<rect x="269.15" y="389.91" width="7.50" height="4.69" fill="#7d7d7d"/>
<line x1="272.90" y1="389.91" x2="272.90" y2="388.19" stroke="#2a2a2a" stroke-width="1.2"/>
<line x1="270.70" y1="388.19" x2="275.10" y2="388.19" stroke="#2a2a2a" stroke-width="1.4"/>
<rect x="272.05" y="384.14" width="1.7" height="1.7" rx="0.4" fill="#111"/>
<line x1="272.90" y1="394.60" x2="272.90" y2="398.00" stroke="#000" stroke-width="1.0"/>
<rect x="279.95" y="393.52" width="7.50" height="1.08" fill="#6f6f6f"/>
<line x1="283.70" y1="393.52" x2="283.70" y2="391.10" stroke="#2a2a2a" stroke-width="1.2"/>
<line x1="281.50" y1="391.10" x2="285.90" y2="391.10" stroke="#2a2a2a" stroke-width="1.4"/>
<line x1="283.70" y1="394.60" x2="283.70" y2="398.00" stroke="#000" stroke-width="1.0"/>
<line x1="294.50" y1="394.60" x2="294.50" y2="389.48" stroke="#2a2a2a" stroke-width="1.2"/>
<line x1="292.30" y1="389.48" x2="296.70" y2="389.48" stroke="#2a2a2a" stroke-width="1.4"/>
<line x1="294.50" y1="394.60" x2="294.50" y2="398.00" stroke="#000" stroke-width="1.0"/>
<rect x="301.55" y="389.91" width="7.50" height="4.69" fill="#5a5a5a"/>
<line x1="305.30" y1="389.91" x2="305.30" y2="388.40" stroke="#2a2a2a" stroke-width="1.2"/>
<line x1="303.10" y1="388.40" x2="307.50" y2="388.40" stroke="#2a2a2a" stroke-width="1.4"/>
<rect x="304.45" y="384.35" width="1.7" height="1.7" rx="0.4" fill="#111"/>
<line x1="305.30" y1="394.60" x2="305.30" y2="398.00" stroke="#000" stroke-width="1.0"/>
<rect x="312.35" y="371.00" width="7.50" height="23.60" fill="#909090"/>
<line x1="316.10" y1="371.00" x2="316.10" y2="368.52" stroke="#2a2a2a" stroke-width="1.2"/>
<line x1="313.90" y1="368.52" x2="318.30" y2="368.52" stroke="#2a2a2a" stroke-width="1.4"/>
<rect x="313.60" y="364.47" width="1.7" height="1.7" rx="0.4" fill="#111"/>
<rect x="316.90" y="364.47" width="1.7" height="1.7" rx="0.4" fill="#111"/>
<line x1="316.10" y1="394.60" x2="316.10" y2="398.00" stroke="#000" stroke-width="1.0"/>
<rect x="323.15" y="368.20" width="7.50" height="26.40" fill="#555555"/>
<line x1="326.90" y1="368.20" x2="326.90" y2="363.62" stroke="#2a2a2a" stroke-width="1.2"/>
<line x1="324.70" y1="363.62" x2="329.10" y2="363.62" stroke="#2a2a2a" stroke-width="1.4"/>
<rect x="326.05" y="359.57" width="1.7" height="1.7" rx="0.4" fill="#111"/>
<line x1="326.90" y1="394.60" x2="326.90" y2="398.00" stroke="#000" stroke-width="1.0"/>
<text x="237.70" y="372.10" font-size="8.4" text-anchor="middle" textLength="72.20" lengthAdjust="spacingAndGlyphs" transform="rotate(-90 237.70 372.10)" class="b">Apo 2.7 positive cells</text>
<text x="248.20" y="372.15" font-size="8.1" text-anchor="middle" textLength="78.70" lengthAdjust="spacingAndGlyphs" transform="rotate(-90 248.20 372.15)" class="b">(%, vehicle subtracted)</text>
<text class="b" x="274.30" y="406.80" font-size="6.5" text-anchor="end" transform="rotate(-45 274.30 406.80)" xml:space="preserve"><tspan font-weight="normal" font-style="normal">BPTES</tspan></text>
<text class="b" x="285.10" y="406.80" font-size="6.5" text-anchor="end" transform="rotate(-45 285.10 406.80)" xml:space="preserve"><tspan font-weight="normal" font-style="normal">CB-839</tspan></text>
<text class="b" x="295.90" y="406.80" font-size="6.5" text-anchor="end" transform="rotate(-45 295.90 406.80)" xml:space="preserve"><tspan font-weight="normal" font-style="italic">E. coli </tspan><tspan font-weight="bold" font-style="normal">ASNase</tspan></text>
<text class="b" x="306.70" y="406.80" font-size="6.5" text-anchor="end" transform="rotate(-45 306.70 406.80)" xml:space="preserve"><tspan font-weight="normal" font-style="italic">E. chrysanthemi </tspan><tspan font-weight="bold" font-style="normal">ASNase</tspan></text>
<text class="b" x="317.50" y="406.80" font-size="6.5" text-anchor="end" transform="rotate(-45 317.50 406.80)" xml:space="preserve"><tspan font-weight="bold" font-style="normal">bortezomib</tspan></text>
<text class="b" x="328.30" y="406.80" font-size="6.5" text-anchor="end" transform="rotate(-44 328.30 406.80)" xml:space="preserve"><tspan font-weight="normal" font-style="italic">E. chrysanthemi </tspan><tspan font-weight="bold" font-style="normal">ASNase  + bortezomib</tspan></text>
<defs><filter id="bl" x="-50%" y="-50%" width="200%" height="200%"><feGaussianBlur stdDeviation="0.85"/></filter><filter id="bl2" x="-50%" y="-50%" width="200%" height="200%"><feGaussianBlur stdDeviation="0.5"/></filter><filter id="bl3" x="-20%" y="-20%" width="140%" height="140%"><feGaussianBlur stdDeviation="1.2"/></filter></defs>
<text x="337.80" y="363.80" font-size="5.8" textLength="26.80" lengthAdjust="spacingAndGlyphs" class="b">RPMI 8226</text>
<text x="348.60" y="375.50" font-size="5.8" text-anchor="end" class="b">20</text>
<line x1="350.90" y1="373.50" x2="362.30" y2="373.50" stroke="#222" stroke-width="1.0"/>
<text x="348.60" y="387.20" font-size="5.8" text-anchor="end" class="b">15</text>
<line x1="350.90" y1="385.20" x2="362.30" y2="385.20" stroke="#222" stroke-width="1.0"/>
<text x="348.60" y="398.80" font-size="5.8" text-anchor="end" class="b">44</text>
<line x1="350.90" y1="396.80" x2="362.30" y2="396.80" stroke="#222" stroke-width="1.0"/>
<rect x="367.00" y="370.20" width="96.80" height="16.60" fill="#c4c4c4"/>
<g filter="url(#bl3)">
<rect x="381.20" y="371.20" width="10.40" height="9.50" fill="#9a9a9a"/>
<rect x="394.10" y="371.20" width="10.40" height="9.50" fill="#a0a0a0"/>
<rect x="407.30" y="371.20" width="10.40" height="9.50" fill="#aaaaaa"/>
<rect x="422.00" y="371.20" width="10.40" height="9.50" fill="#999999"/>
<rect x="435.40" y="371.20" width="10.40" height="9.50" fill="#8c8c8c"/>
<rect x="450.30" y="371.20" width="10.40" height="9.50" fill="#959595"/>
<rect x="367.50" y="371.00" width="9.00" height="15.00" fill="#d2d2d2"/>
</g>
<g filter="url(#bl)">
<rect x="367.75" y="382.30" width="8.50" height="2.00" rx="1.00" fill="#333" fill-opacity="1.0"/>
<rect x="380.90" y="381.70" width="11.00" height="3.40" rx="1.70" fill="#000" fill-opacity="1.0"/>
<rect x="381.15" y="378.40" width="10.50" height="2.80" rx="1.40" fill="#222" fill-opacity="1.0"/>
<rect x="381.40" y="374.30" width="10.00" height="2.40" rx="1.20" fill="#555" fill-opacity="1.0"/>
<rect x="393.55" y="382.40" width="11.50" height="3.60" rx="1.80" fill="#000" fill-opacity="1.0"/>
<rect x="393.80" y="378.10" width="11.00" height="2.80" rx="1.40" fill="#1a1a1a" fill-opacity="1.0"/>
<rect x="394.30" y="373.90" width="10.00" height="2.20" rx="1.10" fill="#666" fill-opacity="1.0"/>
<rect x="407.50" y="382.20" width="10.00" height="2.20" rx="1.10" fill="#111" fill-opacity="1.0"/>
<rect x="407.75" y="377.70" width="9.50" height="2.40" rx="1.20" fill="#444" fill-opacity="1.0"/>
<rect x="408.00" y="372.70" width="9.00" height="2.20" rx="1.10" fill="#777" fill-opacity="1.0"/>
<rect x="421.70" y="381.60" width="11.00" height="3.40" rx="1.70" fill="#000" fill-opacity="1.0"/>
<rect x="421.70" y="378.10" width="11.00" height="2.80" rx="1.40" fill="#111" fill-opacity="1.0"/>
<rect x="421.95" y="373.70" width="10.50" height="2.60" rx="1.30" fill="#444" fill-opacity="1.0"/>
<rect x="435.10" y="381.70" width="11.00" height="2.60" rx="1.30" fill="#0a0a0a" fill-opacity="1.0"/>
<rect x="435.10" y="377.10" width="11.00" height="3.00" rx="1.50" fill="#111" fill-opacity="1.0"/>
<rect x="435.35" y="372.90" width="10.50" height="3.00" rx="1.50" fill="#222" fill-opacity="1.0"/>
<rect x="449.75" y="382.80" width="11.50" height="3.40" rx="1.70" fill="#000" fill-opacity="1.0"/>
<rect x="449.75" y="378.80" width="11.50" height="2.80" rx="1.40" fill="#111" fill-opacity="1.0"/>
<rect x="450.00" y="374.30" width="11.00" height="3.00" rx="1.50" fill="#222" fill-opacity="1.0"/>
</g>
<rect x="367.00" y="393.30" width="96.80" height="8.40" fill="#b0b0b0"/>
<g filter="url(#bl2)">
<rect x="365.70" y="394.70" width="12.60" height="5.20" rx="2.60" fill="#0a0a0a" fill-opacity="1.0"/>
<rect x="380.10" y="394.70" width="12.60" height="5.20" rx="2.60" fill="#0a0a0a" fill-opacity="1.0"/>
<rect x="393.00" y="394.70" width="12.60" height="5.20" rx="2.60" fill="#0a0a0a" fill-opacity="1.0"/>
<rect x="406.20" y="394.70" width="12.60" height="5.20" rx="2.60" fill="#0a0a0a" fill-opacity="1.0"/>
<rect x="420.90" y="394.70" width="12.60" height="5.20" rx="2.60" fill="#0a0a0a" fill-opacity="1.0"/>
<rect x="434.30" y="394.70" width="12.60" height="5.20" rx="2.60" fill="#0a0a0a" fill-opacity="1.0"/>
<rect x="449.20" y="394.70" width="12.60" height="5.20" rx="2.60" fill="#0a0a0a" fill-opacity="1.0"/>
</g>
<text x="465.30" y="379.60" font-size="6.2" textLength="45.40" lengthAdjust="spacingAndGlyphs" class="b">Cleaved Caspase3</text>
<text x="465.30" y="399.40" font-size="6.2" textLength="14.60" lengthAdjust="spacingAndGlyphs" class="b">βactin</text>
<text class="b" x="371.60" y="367.80" font-size="6.2" textLength="17.41" lengthAdjust="spacingAndGlyphs" transform="rotate(-43 371.60 367.80)" xml:space="preserve"><tspan font-style="normal">Vehicle</tspan></text>
<text class="b" x="385.40" y="368.40" font-size="6.2" textLength="17.71" lengthAdjust="spacingAndGlyphs" transform="rotate(-43 385.40 368.40)" xml:space="preserve"><tspan font-style="normal">BPTES</tspan></text>
<text class="b" x="399.00" y="367.60" font-size="6.2" textLength="18.31" lengthAdjust="spacingAndGlyphs" transform="rotate(-43 399.00 367.60)" xml:space="preserve"><tspan font-style="normal">CB-839</tspan></text>
<text class="b" x="412.00" y="368.20" font-size="6.2" textLength="35.72" lengthAdjust="spacingAndGlyphs" transform="rotate(-43 412.00 368.20)" xml:space="preserve"><tspan font-style="italic">E. coli</tspan><tspan font-style="normal"> ASNase</tspan></text>
<text class="b" x="426.80" y="365.40" font-size="6.2" textLength="59.72" lengthAdjust="spacingAndGlyphs" transform="rotate(-43 426.80 365.40)" xml:space="preserve"><tspan font-style="italic">E. chrysanthemi</tspan><tspan font-style="normal"> ASNase</tspan></text>
<text class="b" x="441.20" y="367.90" font-size="6.2" textLength="26.71" lengthAdjust="spacingAndGlyphs" transform="rotate(-43 441.20 367.90)" xml:space="preserve"><tspan font-style="normal">bortezomib</tspan></text>
<text class="b" x="454.80" y="365.20" font-size="6.2" textLength="59.72" lengthAdjust="spacingAndGlyphs" transform="rotate(-43 454.80 365.20)" xml:space="preserve"><tspan font-style="italic">E. chrysanthemi</tspan><tspan font-style="normal"> ASNase</tspan></text>
<text class="b" x="459.00" y="368.30" font-size="6.2" textLength="31.36" lengthAdjust="spacingAndGlyphs" transform="rotate(-43 459.00 368.30)">+ bortezomib</text>
<text x="350.20" y="447.70" font-size="5.8" textLength="11.50" lengthAdjust="spacingAndGlyphs" class="b">JJN3</text>
<text x="350.20" y="459.30" font-size="5.8" text-anchor="end" class="b">20</text>
<line x1="352.20" y1="457.30" x2="364.60" y2="457.30" stroke="#222" stroke-width="1.0"/>
<text x="350.20" y="471.20" font-size="5.8" text-anchor="end" class="b">15</text>
<line x1="352.20" y1="469.20" x2="364.60" y2="469.20" stroke="#222" stroke-width="1.0"/>
<text x="350.20" y="483.20" font-size="5.8" text-anchor="end" class="b">44</text>
<line x1="352.20" y1="481.20" x2="364.60" y2="481.20" stroke="#222" stroke-width="1.0"/>
<rect x="367.80" y="455.70" width="97.60" height="15.80" fill="#a2a2a2"/>
<g filter="url(#bl)">
<rect x="370.50" y="459.40" width="9.00" height="2.40" rx="1.20" fill="#111" fill-opacity="1.0"/>
<rect x="370.50" y="462.30" width="9.00" height="2.20" rx="1.10" fill="#151515" fill-opacity="1.0"/>
<rect x="370.25" y="467.90" width="9.50" height="2.20" rx="1.10" fill="#0d0d0d" fill-opacity="1.0"/>
<rect x="383.55" y="459.20" width="9.50" height="2.20" rx="1.10" fill="#1a1a1a" fill-opacity="1.0"/>
<rect x="383.55" y="462.30" width="9.50" height="2.20" rx="1.10" fill="#151515" fill-opacity="1.0"/>
<rect x="383.30" y="466.50" width="10.00" height="2.60" rx="1.30" fill="#0a0a0a" fill-opacity="1.0"/>
<rect x="397.25" y="458.00" width="9.50" height="3.20" rx="1.60" fill="#0a0a0a" fill-opacity="1.0"/>
<rect x="397.25" y="461.30" width="9.50" height="2.60" rx="1.30" fill="#111" fill-opacity="1.0"/>
<rect x="397.00" y="465.20" width="10.00" height="3.20" rx="1.60" fill="#050505" fill-opacity="1.0"/>
</g><g filter="url(#bl3)">
<path d="M410.75,458.00 L419.25,458.00 L420.25,467.10 Q420.25,468.60 418.25,468.60 L411.75,468.60 Q409.75,468.60 409.75,467.10 Z" fill="#0d0d0d"/>
<path d="M424.70,458.00 L432.70,458.00 L434.70,467.10 Q434.70,468.60 432.70,468.60 L424.70,468.60 Q422.70,468.60 422.70,467.10 Z" fill="#0d0d0d"/>
<path d="M438.50,456.60 L445.50,456.60 L448.00,467.10 Q448.00,468.60 446.00,468.60 L438.00,468.60 Q436.00,468.60 436.00,467.10 Z" fill="#0d0d0d"/>
<path d="M451.50,460.40 L462.50,460.40 L464.00,467.70 Q464.00,469.20 462.00,469.20 L452.00,469.20 Q450.00,469.20 450.00,467.70 Z" fill="#0d0d0d"/>
</g>
<rect x="367.80" y="476.20" width="97.60" height="8.60" fill="#dcdcdc"/>
<g filter="url(#bl2)">
<rect x="368.40" y="478.30" width="13.20" height="4.60" rx="2.30" fill="#0a0a0a" fill-opacity="1.0"/>
<rect x="381.70" y="478.40" width="13.20" height="4.40" rx="2.20" fill="#0a0a0a" fill-opacity="1.0"/>
<rect x="395.40" y="478.40" width="13.20" height="4.40" rx="2.20" fill="#0a0a0a" fill-opacity="1.0"/>
<rect x="408.40" y="478.10" width="13.20" height="3.60" rx="1.80" fill="#0a0a0a" fill-opacity="1.0"/>
<rect x="422.10" y="478.10" width="13.20" height="3.60" rx="1.80" fill="#0a0a0a" fill-opacity="1.0"/>
<rect x="435.40" y="478.20" width="13.20" height="3.40" rx="1.70" fill="#0a0a0a" fill-opacity="1.0"/>
<rect x="450.40" y="478.10" width="13.20" height="3.60" rx="1.80" fill="#0a0a0a" fill-opacity="1.0"/>
</g>
<text x="467.10" y="464.40" font-size="6.2" textLength="46.20" lengthAdjust="spacingAndGlyphs" class="b">Cleaved Caspase3</text>
<text x="467.10" y="482.70" font-size="6.2" textLength="14.80" lengthAdjust="spacingAndGlyphs" class="b">βactin</text>
<text class="b" x="372.80" y="453.60" font-size="6.2" textLength="17.41" lengthAdjust="spacingAndGlyphs" transform="rotate(-43 372.80 453.60)" xml:space="preserve"><tspan font-style="normal">Vehicle</tspan></text>
<text class="b" x="386.60" y="453.60" font-size="6.2" textLength="17.71" lengthAdjust="spacingAndGlyphs" transform="rotate(-43 386.60 453.60)" xml:space="preserve"><tspan font-style="normal">BPTES</tspan></text>
<text class="b" x="401.20" y="453.60" font-size="6.2" textLength="18.31" lengthAdjust="spacingAndGlyphs" transform="rotate(-43 401.20 453.60)" xml:space="preserve"><tspan font-style="normal">CB-839</tspan></text>
<text class="b" x="413.90" y="453.40" font-size="6.2" textLength="35.72" lengthAdjust="spacingAndGlyphs" transform="rotate(-43 413.90 453.40)" xml:space="preserve"><tspan font-style="italic">E. coli</tspan><tspan font-style="normal"> ASNase</tspan></text>
<text class="b" x="427.60" y="452.60" font-size="6.2" textLength="59.72" lengthAdjust="spacingAndGlyphs" transform="rotate(-43 427.60 452.60)" xml:space="preserve"><tspan font-style="italic">E. chrysanthemi</tspan><tspan font-style="normal"> ASNase</tspan></text>
<text class="b" x="441.40" y="452.60" font-size="6.2" textLength="26.71" lengthAdjust="spacingAndGlyphs" transform="rotate(-43 441.40 452.60)" xml:space="preserve"><tspan font-style="normal">bortezomib</tspan></text>
<text class="b" x="455.20" y="452.40" font-size="6.2" textLength="59.72" lengthAdjust="spacingAndGlyphs" transform="rotate(-43 455.20 452.40)" xml:space="preserve"><tspan font-style="italic">E. chrysanthemi</tspan><tspan font-style="normal"> ASNase</tspan></text>
<text class="b" x="459.40" y="455.60" font-size="6.2" textLength="31.36" lengthAdjust="spacingAndGlyphs" transform="rotate(-43 459.40 455.60)">+ bortezomib</text>
</svg>
</body></html>
